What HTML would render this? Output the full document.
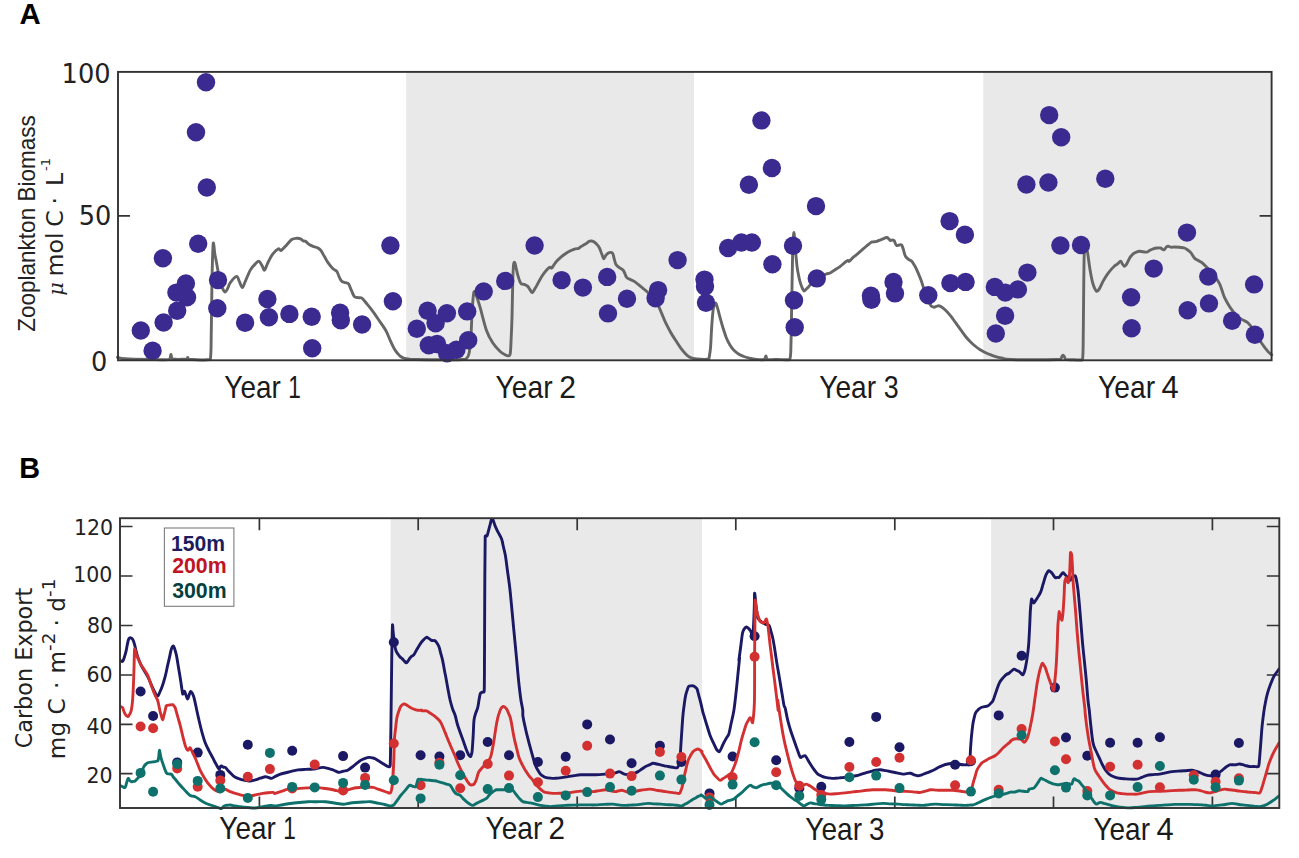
<!DOCTYPE html>
<html lang="en"><head><meta charset="utf-8"><title>Figure</title>
<style>html,body{margin:0;padding:0;background:#fff}body{width:1299px;height:858px;overflow:hidden}svg{display:block}</style>
</head><body>
<svg width="1299" height="858" viewBox="0 0 1299 858">
<rect width="1299" height="858" fill="#fff"/>
<rect x="406.2" y="71.9" width="287.8" height="288.4" fill="#e9e9e9"/>
<rect x="983.3" y="71.9" width="288.3" height="288.4" fill="#e9e9e9"/>
<path d="M117.5,357.3C118.8,357.6 119.6,358.4 125.1,358.8C130.6,359.2 142.6,359.4 150.1,359.5C157.6,359.6 165.7,360.1 169.2,359.3C170.9,358.4 170.3,354.6 170.9,354.5C171.5,354.4 170.9,358.0 172.7,358.8C175.3,359.6 183.8,359.2 186.4,359.0C187.7,358.8 187.2,357.4 187.7,357.5C188.2,357.6 187.7,359.0 189.2,359.3C193.0,359.6 206.5,360.1 210.3,359.5C211.3,354.6 211.0,343.7 211.3,330.2C211.6,316.7 211.7,294.9 212.0,280.1C212.3,265.3 212.8,247.5 213.3,243.0C213.8,242.4 214.3,250.5 214.8,253.8C215.3,257.1 215.7,258.1 216.5,262.6C217.3,267.1 218.7,275.6 219.8,280.1C220.9,284.6 221.9,286.9 222.8,288.9C223.7,290.9 224.5,292.2 225.3,292.1C226.2,292.0 227.0,289.7 227.8,288.1C228.7,286.5 228.8,284.6 230.3,282.6C231.8,280.6 235.1,276.6 236.6,276.4C238.1,276.2 238.3,279.5 239.3,281.4C240.3,283.3 241.3,287.6 242.3,287.6C243.3,287.6 243.9,284.4 245.3,281.4C246.7,278.4 248.6,273.1 250.3,270.1C252.0,267.1 253.9,265.3 255.4,263.8C256.9,262.3 257.9,260.9 259.1,261.3C260.3,261.7 261.5,264.8 262.4,266.3C263.3,267.8 263.7,270.7 264.6,270.1C265.5,269.5 266.5,265.4 267.9,262.6C269.3,259.8 271.1,256.1 272.9,253.8C274.7,251.5 277.0,249.4 278.4,248.8C279.8,248.2 279.7,250.9 280.9,250.5C282.1,250.1 283.6,248.2 285.4,246.3C287.2,244.4 289.8,240.9 291.7,239.5C293.6,238.1 295.2,238.4 296.7,238.3C298.2,238.2 299.3,238.3 300.5,238.8C301.7,239.3 302.6,240.6 303.5,241.0C304.4,241.4 304.5,240.7 305.5,241.3C306.5,241.9 307.9,243.7 309.2,244.5C310.5,245.3 311.7,245.8 313.0,246.3C314.3,246.8 315.5,246.9 316.8,247.5C318.1,248.1 319.2,248.5 320.5,250.0C321.8,251.5 323.0,254.2 324.3,256.3C325.6,258.4 326.5,260.5 328.0,262.6C329.5,264.7 331.5,267.3 333.0,268.8C334.5,270.3 335.7,269.9 336.8,271.3C337.9,272.7 338.4,275.4 339.3,277.1C340.2,278.8 340.7,280.5 341.8,281.4C342.9,282.3 344.4,282.2 345.6,282.6C346.8,283.0 347.6,282.6 348.6,283.9C349.6,285.2 350.3,288.0 351.3,290.1C352.3,292.2 353.1,295.1 354.3,296.4C355.5,297.7 356.8,297.4 358.1,297.7C359.4,298.0 360.4,297.1 361.9,298.2C363.4,299.3 365.2,301.9 366.9,303.9C368.6,305.9 370.0,307.6 371.9,310.2C373.8,312.8 375.8,315.6 378.1,319.0C380.4,322.4 383.6,326.6 385.7,330.2C387.8,333.8 388.7,337.1 390.2,340.3C391.7,343.5 393.1,346.8 394.4,349.0C395.7,351.2 396.6,352.2 397.7,353.5C398.8,354.8 399.5,355.7 400.7,356.5C401.9,357.3 403.2,357.9 404.5,358.3C405.8,358.7 406.4,358.8 408.2,359.0C410.0,359.2 410.0,359.4 415.0,359.5C420.0,359.6 429.5,359.8 437.6,359.8C445.7,359.8 457.7,359.7 462.6,359.5C466.4,359.3 465.3,359.4 466.4,358.5C467.5,357.6 468.2,357.1 468.9,354.0C469.6,350.9 470.1,347.7 470.7,340.3C471.3,332.9 471.7,317.9 472.2,310.2C472.7,302.5 473.0,298.4 473.4,295.2C473.8,292.0 473.9,291.3 474.4,291.4C474.9,291.5 475.4,292.9 476.4,295.7C477.4,298.5 478.5,301.8 480.2,307.7C481.9,313.6 484.3,324.2 486.4,330.2C488.5,336.2 490.4,339.2 492.7,342.8C495.0,346.4 498.1,349.5 500.2,351.5C502.3,353.5 503.8,354.1 505.2,354.8C506.6,355.5 507.3,356.1 508.2,355.8C509.1,355.5 509.8,356.4 510.3,353.3C510.8,349.8 511.0,341.3 511.3,335.2C511.6,329.1 511.7,327.1 512.0,317.7C512.3,308.3 512.5,289.0 512.8,280.1C513.1,271.2 513.2,268.1 513.5,265.1C513.8,262.1 514.3,262.0 514.8,262.6C515.3,263.2 515.8,266.7 516.3,268.8C516.8,270.9 517.2,273.0 517.8,275.1C518.4,277.2 519.2,279.9 519.8,281.4C520.4,282.9 520.6,283.4 521.5,283.9C522.4,284.4 523.7,284.2 524.8,284.6C525.9,285.0 526.9,285.5 527.8,286.4C528.7,287.3 529.5,289.0 530.3,290.1C531.1,291.2 531.4,292.9 532.3,292.6C533.1,292.3 533.9,290.4 535.3,288.1C536.7,285.8 538.8,281.4 540.3,278.9C541.8,276.3 542.8,274.8 544.1,273.1C545.4,271.4 546.8,269.8 547.8,268.8C548.8,267.8 549.2,267.2 549.8,267.1C550.4,267.0 550.9,268.5 551.6,268.1C552.3,267.7 553.2,265.8 554.1,264.6C555.0,263.4 555.5,262.5 556.6,261.3C557.7,260.1 558.9,258.9 560.4,257.6C561.9,256.3 563.7,255.0 565.4,253.8C567.1,252.6 568.7,251.7 570.4,250.8C572.1,250.0 574.0,249.2 575.4,248.8C576.8,248.4 577.5,248.8 578.4,248.5C579.2,248.2 579.6,247.5 580.4,247.0C581.2,246.5 582.0,246.0 582.9,245.5C583.8,245.0 584.8,244.5 585.9,243.8C587.0,243.1 588.2,241.8 589.2,241.3C590.2,240.8 590.9,240.9 591.7,241.0C592.6,241.1 593.4,241.4 594.2,242.0C595.1,242.6 595.9,243.4 596.7,244.3C597.6,245.2 598.4,245.9 599.2,247.5C600.1,249.1 600.9,251.9 601.7,253.8C602.5,255.7 603.0,258.6 603.7,258.8C604.4,259.0 605.1,256.2 606.0,255.1C606.9,254.0 608.1,252.9 609.2,252.6C610.3,252.3 611.6,252.0 612.5,253.1C613.4,254.2 613.6,256.8 614.2,258.8C614.8,260.8 615.1,263.1 616.0,264.6C616.9,266.1 618.1,266.7 619.3,267.6C620.5,268.5 622.0,269.0 623.0,270.1C624.0,271.2 624.4,272.6 625.0,273.9C625.6,275.2 625.9,276.6 626.8,277.6C627.7,278.6 629.2,279.0 630.5,279.6C631.8,280.2 632.6,280.2 634.3,281.4C636.0,282.6 638.3,284.5 640.6,286.4C642.9,288.3 646.0,290.6 648.1,292.6C650.2,294.6 651.4,296.1 653.1,298.2C654.8,300.3 656.6,302.5 658.1,305.2C659.6,307.9 660.6,310.9 661.9,313.9C663.2,316.9 664.1,319.6 665.6,322.7C667.1,325.8 668.9,329.2 670.6,332.2C672.3,335.2 673.9,337.6 675.6,340.3C677.3,343.0 678.9,345.5 680.6,347.8C682.3,350.1 684.2,352.4 685.7,354.0C687.2,355.6 688.1,356.2 689.4,357.0C690.7,357.8 691.3,358.1 693.2,358.5C695.1,358.9 698.1,359.2 700.7,359.3C703.3,359.4 707.2,359.5 708.7,359.0C709.3,358.5 709.0,358.4 709.3,356.5C709.6,354.6 710.1,352.3 710.5,347.8C710.9,343.3 711.1,336.6 711.5,330.2C711.9,323.8 712.6,314.5 713.1,310.2C713.6,305.9 714.1,305.9 714.6,304.7C715.1,303.5 715.3,302.6 715.8,303.2C716.3,303.8 716.9,305.7 717.6,308.2C718.3,310.7 719.2,314.3 720.1,317.7C721.0,321.1 722.0,324.8 723.1,328.2C724.2,331.6 725.1,334.8 726.3,337.7C727.5,340.6 728.8,343.2 730.1,345.3C731.4,347.4 732.4,348.8 733.9,350.3C735.4,351.8 737.2,353.2 738.9,354.3C740.6,355.4 742.0,355.8 743.9,356.5C745.8,357.2 748.2,357.8 750.1,358.3C752.0,358.8 752.9,359.1 755.2,359.3C757.5,359.5 762.1,360.1 763.9,359.5C765.7,358.9 765.3,356.0 765.9,356.0C766.5,356.0 765.9,358.7 767.7,359.3C769.7,359.9 774.0,359.5 777.7,359.5C781.4,359.5 787.4,360.1 789.7,359.5C791.0,356.7 790.7,352.0 791.0,342.8C791.3,333.6 791.4,319.3 791.7,305.2C792.0,291.1 792.2,271.2 792.5,260.1C792.8,249.0 792.9,244.7 793.2,240.0C793.5,235.3 793.7,232.5 794.0,232.5C794.3,232.5 794.4,236.6 794.7,240.0C795.0,243.4 795.3,247.9 795.7,252.6C796.1,257.3 796.7,263.6 797.2,267.6C797.7,271.6 798.3,273.8 798.8,276.4C799.3,278.9 799.7,280.6 800.3,282.6C800.9,284.6 801.7,286.7 802.3,288.1C802.9,289.5 803.4,290.6 804.0,290.9C804.6,291.2 805.2,290.2 805.8,289.6C806.4,289.0 807.0,288.5 807.8,287.6C808.6,286.8 809.4,285.7 810.3,284.6C811.1,283.5 811.5,282.4 812.8,281.4C814.1,280.4 816.1,279.9 817.8,278.9C819.5,277.9 821.3,276.5 822.8,275.6C824.3,274.8 825.4,274.3 826.6,273.9C827.8,273.5 828.7,273.5 829.8,273.1C830.9,272.7 831.6,272.0 832.8,271.3C834.0,270.6 835.3,269.7 836.6,268.8C837.9,267.9 839.0,267.3 840.3,266.3C841.6,265.3 842.9,264.1 844.1,263.1C845.3,262.1 846.5,260.9 847.4,260.6C848.2,260.3 848.2,261.8 849.1,261.3C850.0,260.8 851.6,258.7 852.9,257.6C854.2,256.5 855.3,255.7 856.6,254.6C857.9,253.5 858.9,252.6 860.4,251.3C861.9,250.0 863.9,248.3 865.4,247.0C866.9,245.7 868.1,244.7 869.2,243.8C870.3,243.0 870.9,242.3 871.7,242.0C872.6,241.7 873.4,241.9 874.2,241.8C875.1,241.7 875.4,241.7 876.7,241.3C878.0,240.9 880.0,239.9 881.7,239.3C883.4,238.7 885.5,237.6 886.7,237.5C887.9,237.4 888.1,238.3 888.7,238.8C889.3,239.3 889.9,240.3 890.5,240.5C891.1,240.7 891.9,239.9 892.5,240.0C893.1,240.1 893.7,240.2 894.2,240.8C894.7,241.4 895.1,243.0 895.5,243.8C895.9,244.6 896.1,245.3 896.7,245.5C897.3,245.7 898.4,245.1 899.2,245.0C900.1,244.9 901.0,244.4 901.7,245.0C902.4,245.8 902.9,248.1 903.5,250.0C904.1,251.9 904.6,254.7 905.5,256.3C906.4,257.9 907.4,258.4 908.5,259.3C909.6,260.2 910.7,260.1 911.8,261.3C912.9,262.5 913.9,264.4 915.0,266.3C916.1,268.2 917.0,270.3 918.0,272.6C919.0,274.9 919.9,277.1 921.0,280.1C922.1,283.1 923.2,287.0 924.3,290.1C925.4,293.2 926.4,295.6 927.5,298.2C928.6,300.8 929.7,303.8 930.6,305.2C931.5,306.6 932.0,306.4 932.6,306.7C933.2,307.0 933.6,307.3 934.3,307.2C935.0,307.1 935.9,306.4 936.8,306.2C937.6,306.0 938.3,305.6 939.3,305.9C940.3,306.2 941.5,307.0 942.6,307.7C943.7,308.4 944.2,308.8 945.6,310.2C947.0,311.6 948.9,313.8 950.6,315.9C952.3,318.0 953.9,320.4 955.6,322.7C957.3,325.0 958.9,327.4 960.6,329.7C962.3,332.0 963.9,334.4 965.6,336.5C967.3,338.6 968.9,340.3 970.6,342.0C972.3,343.7 974.0,345.1 975.7,346.5C977.4,347.9 979.0,348.9 980.7,350.0C982.4,351.1 983.8,351.9 985.7,352.8C987.6,353.7 989.8,354.5 991.9,355.3C994.0,356.1 996.3,356.8 998.2,357.3C1000.1,357.8 1001.8,358.0 1003.2,358.3C1004.6,358.6 1003.2,359.0 1006.6,359.3C1011.0,359.6 1020.0,359.8 1029.1,359.8C1038.2,359.8 1054.9,359.8 1060.4,359.3C1061.7,358.8 1061.3,357.5 1061.7,356.8C1062.1,356.1 1062.5,355.3 1063.0,355.3C1063.5,355.3 1064.0,356.1 1064.5,356.8C1065.0,357.5 1064.5,358.8 1065.7,359.3C1067.3,359.8 1071.3,359.7 1074.2,359.8C1077.1,359.9 1081.0,360.4 1082.5,359.8C1083.3,354.8 1083.1,343.7 1083.3,330.2C1083.5,316.7 1083.6,293.3 1083.8,280.1C1084.0,266.9 1084.0,257.6 1084.3,252.6C1084.6,249.9 1085.3,250.7 1085.8,250.5C1086.3,250.3 1086.8,249.9 1087.3,251.3C1087.8,253.1 1088.3,257.7 1088.8,261.3C1089.3,264.9 1089.9,269.2 1090.5,272.6C1091.1,276.0 1091.7,278.8 1092.3,281.4C1092.9,283.9 1093.5,285.9 1094.3,287.6C1095.1,289.3 1096.0,291.2 1096.8,291.4C1097.6,291.6 1098.2,290.6 1099.3,288.9C1100.4,287.2 1101.7,283.7 1103.0,281.4C1104.3,279.1 1105.5,277.0 1106.8,275.1C1108.1,273.2 1109.3,271.6 1110.6,270.1C1111.9,268.6 1113.1,267.4 1114.3,266.3C1115.5,265.2 1116.5,264.7 1117.6,263.8C1118.7,262.9 1119.8,261.3 1120.6,261.3C1121.4,261.3 1121.7,262.9 1122.3,263.8C1122.9,264.7 1123.7,266.1 1124.3,266.3C1124.9,266.5 1125.4,265.7 1125.9,265.1C1126.4,264.5 1126.7,263.9 1127.4,262.6C1128.1,261.3 1128.9,259.1 1129.9,257.6C1130.9,256.1 1132.0,254.7 1133.1,253.8C1134.2,252.9 1135.3,252.5 1136.4,252.1C1137.5,251.7 1138.3,251.4 1139.4,251.3C1140.5,251.2 1141.8,251.7 1143.1,251.8C1144.4,251.9 1145.7,252.4 1146.9,252.1C1148.1,251.8 1148.8,250.9 1149.9,250.3C1151.0,249.7 1152.0,249.2 1153.2,248.8C1154.4,248.4 1155.6,248.1 1156.9,248.0C1158.2,247.9 1159.7,247.7 1160.7,248.0C1161.7,248.3 1162.1,249.2 1162.7,249.5C1163.3,249.8 1163.8,249.9 1164.4,249.5C1165.0,249.1 1165.8,247.5 1166.4,247.0C1167.0,246.5 1167.3,246.2 1168.2,246.3C1169.1,246.4 1170.4,247.2 1171.5,247.3C1172.6,247.4 1173.1,247.0 1174.5,247.0C1175.9,247.0 1177.8,247.1 1179.5,247.3C1181.2,247.5 1183.1,247.5 1184.5,248.0C1185.9,248.5 1186.6,249.2 1187.7,250.0C1188.8,250.8 1189.9,251.6 1190.8,252.6C1191.7,253.6 1192.2,254.7 1192.8,255.6C1193.4,256.5 1193.6,257.2 1194.5,258.1C1195.4,259.0 1197.0,259.8 1198.3,260.6C1199.6,261.4 1200.5,261.4 1202.0,262.6C1203.5,263.8 1205.3,265.9 1207.0,267.6C1208.7,269.3 1210.5,270.9 1212.0,272.6C1213.5,274.3 1214.5,275.7 1215.8,277.6C1217.1,279.5 1218.5,281.7 1219.6,283.9C1220.7,286.1 1221.2,288.3 1222.1,290.6C1222.9,292.9 1223.5,295.4 1224.6,297.7C1225.7,300.0 1227.0,302.3 1228.3,304.4C1229.6,306.5 1230.8,308.4 1232.1,310.2C1233.4,312.0 1234.6,313.3 1235.9,314.7C1237.2,316.1 1238.3,317.3 1239.6,318.2C1240.9,319.1 1242.1,319.5 1243.4,320.2C1244.7,320.9 1245.9,321.3 1247.1,322.2C1248.3,323.1 1249.3,324.3 1250.4,325.7C1251.5,327.1 1252.2,328.2 1253.4,330.2C1254.6,332.2 1256.2,334.9 1257.7,337.2C1259.2,339.5 1260.9,342.1 1262.2,344.0C1263.5,345.9 1264.3,346.9 1265.4,348.3C1266.5,349.7 1267.3,350.9 1268.4,352.0C1269.5,353.1 1271.1,354.3 1271.7,354.8" fill="none" stroke="#666666" stroke-width="2.9" stroke-linejoin="round" stroke-linecap="round"/>
<g fill="#3b2a8f">
<circle cx="198.2" cy="243.8" r="9.2"/>
<circle cx="162.9" cy="258.3" r="9.2"/>
<circle cx="185.9" cy="283.4" r="9.2"/>
<circle cx="176.4" cy="292.6" r="9.2"/>
<circle cx="187.0" cy="297.2" r="9.2"/>
<circle cx="177.2" cy="310.7" r="9.2"/>
<circle cx="163.6" cy="322.5" r="9.2"/>
<circle cx="140.8" cy="330.5" r="9.2"/>
<circle cx="152.6" cy="350.8" r="9.2"/>
<circle cx="218.0" cy="280.1" r="9.2"/>
<circle cx="217.3" cy="308.2" r="9.2"/>
<circle cx="245.1" cy="322.7" r="9.2"/>
<circle cx="267.4" cy="298.9" r="9.2"/>
<circle cx="268.9" cy="317.2" r="9.2"/>
<circle cx="289.4" cy="313.9" r="9.2"/>
<circle cx="311.7" cy="316.7" r="9.2"/>
<circle cx="312.2" cy="348.3" r="9.2"/>
<circle cx="340.1" cy="312.7" r="9.2"/>
<circle cx="340.8" cy="320.2" r="9.2"/>
<circle cx="362.1" cy="324.5" r="9.2"/>
<circle cx="390.4" cy="245.5" r="9.2"/>
<circle cx="392.9" cy="301.2" r="9.2"/>
<circle cx="206.0" cy="82.2" r="9.2"/>
<circle cx="196.0" cy="132.2" r="9.2"/>
<circle cx="206.8" cy="187.5" r="9.2"/>
<circle cx="416.8" cy="328.7" r="9.2"/>
<circle cx="427.6" cy="310.7" r="9.2"/>
<circle cx="435.6" cy="323.2" r="9.2"/>
<circle cx="446.9" cy="313.2" r="9.2"/>
<circle cx="467.2" cy="311.4" r="9.2"/>
<circle cx="428.8" cy="345.3" r="9.2"/>
<circle cx="437.1" cy="344.0" r="9.2"/>
<circle cx="447.1" cy="353.3" r="9.2"/>
<circle cx="456.4" cy="349.8" r="9.2"/>
<circle cx="468.2" cy="340.3" r="9.2"/>
<circle cx="483.7" cy="291.4" r="9.2"/>
<circle cx="505.2" cy="280.9" r="9.2"/>
<circle cx="534.6" cy="245.5" r="9.2"/>
<circle cx="561.6" cy="280.1" r="9.2"/>
<circle cx="582.9" cy="287.6" r="9.2"/>
<circle cx="607.2" cy="276.9" r="9.2"/>
<circle cx="608.0" cy="313.4" r="9.2"/>
<circle cx="627.0" cy="298.7" r="9.2"/>
<circle cx="658.1" cy="290.1" r="9.2"/>
<circle cx="655.6" cy="298.2" r="9.2"/>
<circle cx="677.6" cy="260.1" r="9.2"/>
<circle cx="704.5" cy="279.6" r="9.2"/>
<circle cx="705.0" cy="286.4" r="9.2"/>
<circle cx="706.0" cy="302.7" r="9.2"/>
<circle cx="728.1" cy="248.0" r="9.2"/>
<circle cx="741.4" cy="242.5" r="9.2"/>
<circle cx="751.9" cy="242.5" r="9.2"/>
<circle cx="772.4" cy="264.3" r="9.2"/>
<circle cx="793.0" cy="245.8" r="9.2"/>
<circle cx="794.0" cy="300.2" r="9.2"/>
<circle cx="794.7" cy="327.2" r="9.2"/>
<circle cx="816.8" cy="278.4" r="9.2"/>
<circle cx="870.9" cy="295.7" r="9.2"/>
<circle cx="871.4" cy="299.7" r="9.2"/>
<circle cx="893.5" cy="281.9" r="9.2"/>
<circle cx="895.0" cy="293.4" r="9.2"/>
<circle cx="928.3" cy="295.2" r="9.2"/>
<circle cx="950.4" cy="283.1" r="9.2"/>
<circle cx="965.6" cy="281.9" r="9.2"/>
<circle cx="761.4" cy="120.4" r="9.2"/>
<circle cx="771.9" cy="168.0" r="9.2"/>
<circle cx="748.9" cy="184.8" r="9.2"/>
<circle cx="816.0" cy="206.1" r="9.2"/>
<circle cx="949.6" cy="221.1" r="9.2"/>
<circle cx="964.9" cy="234.7" r="9.2"/>
<circle cx="994.8" cy="286.9" r="9.2"/>
<circle cx="1005.3" cy="292.6" r="9.2"/>
<circle cx="1017.9" cy="289.4" r="9.2"/>
<circle cx="1027.4" cy="272.6" r="9.2"/>
<circle cx="1005.1" cy="315.7" r="9.2"/>
<circle cx="995.8" cy="333.5" r="9.2"/>
<circle cx="1060.4" cy="245.5" r="9.2"/>
<circle cx="1081.0" cy="245.0" r="9.2"/>
<circle cx="1131.1" cy="297.2" r="9.2"/>
<circle cx="1131.6" cy="328.2" r="9.2"/>
<circle cx="1153.7" cy="268.6" r="9.2"/>
<circle cx="1187.7" cy="310.2" r="9.2"/>
<circle cx="1208.3" cy="276.6" r="9.2"/>
<circle cx="1209.0" cy="303.4" r="9.2"/>
<circle cx="1232.1" cy="320.7" r="9.2"/>
<circle cx="1254.1" cy="284.4" r="9.2"/>
<circle cx="1254.9" cy="334.7" r="9.2"/>
<circle cx="1049.2" cy="115.1" r="9.2"/>
<circle cx="1061.2" cy="137.2" r="9.2"/>
<circle cx="1026.4" cy="184.5" r="9.2"/>
<circle cx="1048.4" cy="182.5" r="9.2"/>
<circle cx="1105.3" cy="178.8" r="9.2"/>
<circle cx="1187.0" cy="232.6" r="9.2"/>
</g>
<rect x="118.0" y="71.9" width="1153.6" height="288.4" fill="none" stroke="#333333" stroke-width="1.9"/>
<path d="M118.0,215.8 h12 M1271.6,215.8 h-12" stroke="#333333" stroke-width="1.7" fill="none"/>
<rect x="390.6" y="518.2" width="311.4" height="289.8" fill="#e9e9e9"/>
<rect x="991.1" y="518.2" width="288.2" height="289.8" fill="#e9e9e9"/>
<clipPath id="cb"><rect x="120.0" y="518.2" width="1159.3" height="292.8"/></clipPath>
<path d="M120.0,526.5 h12.5 M1279.3,526.5 h-12.5 M120.0,576.0 h12.5 M1279.3,576.0 h-12.5 M120.0,625.5 h12.5 M1279.3,625.5 h-12.5 M120.0,675.0 h12.5 M1279.3,675.0 h-12.5 M120.0,724.3 h12.5 M1279.3,724.3 h-12.5 M120.0,773.7 h12.5 M1279.3,773.7 h-12.5 M259.4,518.2 v12 M259.4,808.0 v-11.5 M418.2,518.2 v12 M418.2,808.0 v-11.5 M577.2,518.2 v12 M577.2,808.0 v-11.5 M735.8,518.2 v12 M735.8,808.0 v-11.5 M894.8,518.2 v12 M894.8,808.0 v-11.5 M1053.5,518.2 v12 M1053.5,808.0 v-11.5 M1212.4,518.2 v12 M1212.4,808.0 v-11.5" stroke="#333333" stroke-width="1.7" fill="none"/>
<path clip-path="url(#cb)" d="M120.0,660.1C120.4,660.3 121.8,662.0 122.6,661.4C123.4,660.8 124.0,658.3 124.6,656.4C125.2,654.5 125.8,652.4 126.3,650.1C126.8,647.8 127.2,645.0 127.6,643.1C128.0,641.2 128.4,639.7 128.8,638.8C129.2,637.9 129.7,637.9 130.1,637.8C130.5,637.7 130.8,637.7 131.3,638.1C131.8,638.5 132.5,639.0 133.1,640.1C133.7,641.2 134.2,643.1 134.6,644.6C135.0,646.1 135.1,646.9 135.6,648.9C136.1,650.9 136.6,653.5 137.6,656.4C138.6,659.3 139.6,662.3 141.3,665.7C143.0,669.1 145.7,672.7 147.6,676.4C149.5,680.1 151.1,684.5 152.6,687.7C154.1,690.9 155.5,693.8 156.4,695.2C157.3,696.3 157.5,696.3 158.1,695.7C158.7,695.1 159.3,693.3 160.1,691.5C160.9,689.7 161.7,687.8 162.6,685.2C163.5,682.6 164.3,679.8 165.2,676.4C166.1,673.0 166.9,668.6 167.7,665.2C168.5,661.8 169.1,659.2 169.7,656.4C170.3,653.6 170.8,650.7 171.4,648.9C172.0,647.1 172.8,645.8 173.4,645.9C174.0,646.0 174.4,648.0 174.9,649.6C175.4,651.2 175.8,652.4 176.4,655.1C177.0,657.8 177.6,661.9 178.2,665.7C178.8,669.5 179.6,674.0 180.2,677.7C180.8,681.4 181.3,684.9 181.7,687.7C182.1,690.5 182.4,693.3 182.7,694.0C183.0,694.6 183.4,692.1 183.7,691.7C184.0,691.3 184.3,690.9 184.7,691.5C185.1,692.2 185.7,694.4 186.2,695.7C186.7,697.0 187.2,699.2 187.7,699.0C188.2,698.8 188.7,696.0 189.2,694.7C189.7,693.4 190.1,691.7 190.7,691.5C191.3,691.3 191.9,692.6 192.5,693.7C193.1,694.8 193.3,695.1 194.0,697.7C194.7,700.3 195.7,705.2 196.5,709.0C197.3,712.8 198.1,716.3 199.0,720.3C199.9,724.3 200.9,728.5 202.0,732.3C203.1,736.1 204.0,739.7 205.2,742.8C206.4,745.9 207.7,748.2 209.0,750.8C210.3,753.4 211.6,755.6 212.8,757.9C214.0,760.2 214.9,762.2 216.0,764.1C217.1,766.0 218.3,768.7 219.0,769.1C219.7,769.5 219.9,767.1 220.3,766.6C220.7,766.1 221.0,765.8 221.5,765.9C222.0,766.0 222.7,766.8 223.3,767.1C223.9,767.4 224.5,766.8 225.3,767.4C226.1,768.0 227.0,769.5 227.8,770.4C228.7,771.3 229.4,772.0 230.3,772.9C231.2,773.8 232.2,775.0 233.3,775.9C234.4,776.8 235.2,777.3 236.6,777.9C238.0,778.5 239.7,779.2 241.6,779.7C243.5,780.2 246.1,780.7 247.8,780.9C249.5,781.1 250.3,780.9 251.6,780.7C252.9,780.5 253.9,780.3 255.4,779.9C256.9,779.5 258.7,778.7 260.4,778.2C262.1,777.7 264.0,776.8 265.4,776.7C266.8,776.6 267.3,777.1 268.4,777.4C269.5,777.7 270.4,778.6 271.6,778.4C272.8,778.2 273.9,777.1 275.4,776.4C276.9,775.7 278.1,775.0 280.4,774.2C282.7,773.4 286.2,772.6 289.2,771.9C292.2,771.2 295.2,770.3 298.0,769.9C300.8,769.5 302.9,769.5 305.5,769.4C308.1,769.3 310.9,769.3 313.0,769.1C315.1,768.9 316.3,768.4 318.0,768.1C319.7,767.8 321.3,767.3 323.0,767.4C324.7,767.5 326.3,768.0 328.0,768.4C329.7,768.8 331.6,769.4 333.0,769.9C334.4,770.4 335.2,771.0 336.3,771.4C337.4,771.8 338.1,772.5 339.3,772.4C340.5,772.3 342.1,771.5 343.6,771.1C345.1,770.7 346.3,770.9 348.1,769.9C349.9,768.9 352.2,767.0 354.3,765.4C356.4,763.8 358.8,761.6 360.6,760.4C362.4,759.2 363.6,758.9 365.1,758.4C366.6,757.9 368.1,757.5 369.4,757.4C370.7,757.3 371.5,757.6 372.6,757.9C373.7,758.2 374.0,758.2 375.6,759.1C377.2,760.0 379.8,761.6 381.9,762.9C384.0,764.2 386.8,766.2 388.2,766.6C389.6,767.0 389.7,767.2 390.2,765.4C390.7,753.3 391.0,714.1 391.3,695.4C391.6,676.7 391.6,667.3 391.8,655.3C392.0,643.3 392.3,629.0 392.5,624.8C392.7,624.2 392.8,628.1 393.0,630.3C393.2,632.5 393.5,635.5 393.8,637.8C394.1,640.1 394.2,642.2 394.5,644.1C394.8,646.0 395.1,647.6 395.5,649.1C395.9,650.6 396.4,651.7 397.0,652.8C397.6,653.9 398.2,654.5 398.8,655.3C399.4,656.1 399.9,656.8 400.5,657.4C401.1,658.0 401.9,658.4 402.6,659.1C403.3,659.8 404.0,660.8 404.6,661.4C405.2,662.0 405.7,663.0 406.3,662.9C406.9,662.8 407.5,661.8 408.1,660.9C408.7,660.0 409.5,658.7 410.1,657.9C410.7,657.1 411.2,656.6 411.8,656.1C412.4,655.6 412.9,655.9 413.8,654.8C414.7,653.7 415.7,651.4 416.8,649.6C417.9,647.8 419.0,645.7 420.1,644.1C421.2,642.5 422.0,641.5 423.1,640.3C424.2,639.1 425.4,637.6 426.4,637.3C427.4,637.0 428.0,638.1 428.9,638.6C429.8,639.1 430.7,640.0 431.4,640.3C432.1,640.6 432.5,640.5 433.1,640.6C433.7,640.7 434.4,640.3 435.1,640.8C435.8,641.3 436.5,642.3 437.1,643.3C437.7,644.3 438.3,645.0 438.9,646.6C439.5,648.2 440.0,650.5 440.6,652.8C441.2,655.1 442.0,657.5 442.6,660.4C443.2,663.3 443.8,666.5 444.4,669.9C445.0,673.3 445.8,676.9 446.4,680.4C447.0,683.9 447.6,687.0 448.2,690.4C448.8,693.8 449.4,697.3 450.2,700.5C451.0,703.7 451.8,706.7 452.7,709.2C453.6,711.8 454.3,712.8 455.2,715.5C456.1,718.2 456.2,720.6 457.7,725.2C459.2,729.8 462.4,738.5 463.9,742.7C465.4,746.9 465.7,747.9 466.4,749.8C467.1,751.7 467.7,753.0 468.2,754.0C468.7,755.0 469.1,755.4 469.5,755.8C469.9,756.2 470.4,756.8 470.7,756.5C471.0,756.2 471.2,755.1 471.5,754.0C471.8,752.9 471.9,753.5 472.2,750.3C472.5,747.1 472.9,740.3 473.2,735.2C473.5,730.1 473.6,723.9 474.0,720.2C474.4,716.5 475.1,715.3 475.7,713.2C476.3,711.1 477.1,709.9 477.7,707.7C478.3,705.5 478.6,702.4 479.0,700.1C479.4,697.8 479.8,695.2 480.2,693.9C480.6,692.6 481.1,692.9 481.5,692.6C481.9,692.3 482.2,692.3 482.7,692.1C483.2,691.9 483.9,692.7 484.2,691.4C484.5,685.1 484.4,670.0 484.5,655.3C484.6,640.6 484.6,625.4 484.7,605.2C484.8,585.0 484.9,548.1 485.2,536.3C485.5,535.2 485.9,535.9 486.2,535.8C486.5,535.7 486.8,536.4 487.2,535.6C487.6,534.5 488.3,531.6 488.8,529.6C489.3,527.6 489.9,525.4 490.3,523.8C490.7,522.2 491.0,521.0 491.3,520.0C491.6,519.0 491.9,517.7 492.3,518.0C492.7,518.3 493.3,520.6 493.8,522.0C494.3,523.4 494.5,524.5 495.3,526.3C496.1,528.1 497.2,530.5 498.3,532.6C499.4,534.7 500.6,536.5 501.5,538.8C502.4,541.1 502.7,543.5 503.3,546.3C503.9,549.1 504.5,550.5 505.3,555.1C506.1,559.7 506.9,566.8 507.8,573.2C508.7,579.6 509.5,584.9 510.3,592.7C511.1,600.5 511.9,610.1 512.8,619.0C513.6,627.9 514.5,637.2 515.3,645.3C516.1,653.4 516.7,659.8 517.3,666.6C517.9,673.4 518.5,679.9 519.1,685.4C519.7,690.9 520.2,694.9 520.8,699.2C521.4,703.5 522.5,707.8 522.8,710.5C522.8,713.2 522.8,712.3 522.8,715.2C523.2,718.1 524.4,723.8 525.3,727.7C526.1,731.6 526.9,734.8 527.8,738.2C528.6,741.6 529.4,744.5 530.3,747.7C531.2,750.9 532.0,754.0 532.9,757.0C533.8,760.0 534.5,763.0 535.4,765.3C536.2,767.6 537.0,768.8 537.9,770.3C538.8,771.8 539.5,773.1 540.4,774.1C541.2,775.1 542.0,775.6 542.9,776.1C543.8,776.6 544.1,777.0 545.4,777.3C546.7,777.6 548.7,777.9 550.4,778.1C552.1,778.3 553.5,778.4 555.4,778.3C557.3,778.2 559.6,777.9 561.7,777.6C563.8,777.3 565.8,776.9 567.9,776.6C570.0,776.3 572.1,775.9 574.2,775.6C576.3,775.3 578.4,774.9 580.5,774.8C582.6,774.7 584.6,774.8 586.7,774.8C588.8,774.8 590.9,774.8 593.0,774.8C595.1,774.8 597.2,774.7 599.3,774.6C601.4,774.5 603.6,774.3 605.5,774.1C607.4,773.9 608.8,773.8 610.5,773.6C612.2,773.4 614.3,773.1 615.5,772.8C616.7,772.5 616.9,772.3 617.5,772.1C618.1,771.9 618.6,771.5 619.3,771.6C620.0,771.7 620.9,772.4 621.8,772.8C622.6,773.2 623.3,773.8 624.3,774.1C625.3,774.4 626.5,774.5 627.6,774.6C628.7,774.7 629.5,775.0 630.6,774.8C631.7,774.6 633.0,773.8 634.3,773.3C635.6,772.8 636.8,772.3 638.1,771.6C639.4,770.9 640.6,769.9 641.9,769.0C643.2,768.1 644.3,767.2 645.6,766.5C646.9,765.8 648.1,765.3 649.4,764.8C650.7,764.3 651.8,763.4 653.1,763.3C654.4,763.2 655.6,763.7 656.9,764.0C658.2,764.3 659.3,764.5 660.6,764.8C661.9,765.1 663.1,765.5 664.4,765.8C665.7,766.1 666.8,766.2 668.2,766.5C669.6,766.8 671.2,767.1 672.7,767.3C674.2,767.5 675.9,768.1 676.9,767.8C677.9,767.5 678.0,766.6 678.4,765.8C678.8,764.9 679.1,765.0 679.4,762.8C679.7,760.6 680.1,756.6 680.4,752.8C680.7,749.0 680.9,744.9 681.2,740.2C681.5,735.5 681.9,729.9 682.2,725.2C682.5,720.5 682.8,716.5 683.2,712.7C683.6,708.9 684.1,705.6 684.5,702.6C684.9,699.6 685.2,697.2 685.7,695.1C686.2,693.0 686.7,691.6 687.2,690.1C687.7,688.6 688.1,687.1 688.7,686.4C689.3,685.7 690.2,686.0 691.0,685.9C691.8,685.8 692.5,685.7 693.2,685.9C693.9,686.1 694.6,686.6 695.2,687.1C695.8,687.6 696.4,687.5 697.0,688.9C697.6,690.3 698.1,692.8 698.7,695.1C699.3,697.4 700.0,699.8 700.7,702.6C701.4,705.4 702.2,709.3 702.7,711.4C703.2,713.5 703.1,712.8 703.8,715.2C704.5,717.6 705.9,722.3 707.0,725.7C708.1,729.1 708.9,732.3 710.0,735.2C711.1,738.1 712.2,740.4 713.3,742.7C714.4,745.0 715.5,747.6 716.3,749.0C717.1,750.4 717.5,750.6 718.1,751.0C718.7,751.4 719.0,752.1 719.6,751.5C720.2,750.9 721.1,748.7 721.8,747.2C722.5,745.7 723.0,744.2 723.8,742.7C724.6,741.2 725.4,739.7 726.3,738.2C727.1,736.7 727.9,736.6 728.8,734.0C729.6,731.4 730.4,726.7 731.3,722.7C732.2,718.7 733.1,715.1 733.9,710.2C734.7,705.3 735.3,699.4 735.9,693.9C736.5,688.4 737.0,683.8 737.6,677.6C738.2,671.4 739.4,660.4 739.6,657.5C739.6,656.9 738.9,661.0 738.9,660.4C739.1,658.3 740.3,650.0 740.9,645.3C741.5,640.6 742.0,635.6 742.6,632.8C743.2,630.0 743.8,629.8 744.4,628.8C745.0,627.8 745.7,627.1 746.4,627.0C747.1,626.9 747.8,627.7 748.4,628.3C749.0,628.9 749.6,629.4 750.1,630.3C750.6,631.1 751.2,632.4 751.6,633.3C752.0,634.1 752.3,635.9 752.6,635.3C752.9,634.4 753.2,630.8 753.4,627.8C753.6,624.8 753.7,622.1 753.9,617.8C754.1,613.5 754.3,606.9 754.4,602.7C754.5,598.5 754.4,593.8 754.6,593.2C754.8,592.6 755.2,597.0 755.4,599.0C755.6,601.0 755.6,603.0 755.9,605.2C756.2,607.4 756.6,610.1 756.9,612.2C757.2,614.3 757.1,616.3 757.7,617.8C758.3,619.3 759.4,619.9 760.2,620.8C761.1,621.6 761.8,622.2 762.7,622.8C763.6,623.4 764.6,623.9 765.7,624.3C766.8,624.7 768.0,624.3 768.9,625.3C769.8,626.3 770.1,628.2 770.7,630.3C771.3,632.4 772.0,634.6 772.7,637.8C773.4,641.0 774.1,645.3 774.7,649.1C775.3,652.9 775.7,655.9 776.4,660.4C777.1,664.9 778.1,670.3 779.0,675.4C779.9,680.5 780.6,685.3 781.5,690.4C782.4,695.5 783.4,702.5 784.0,705.5C784.6,708.5 784.6,705.7 785.2,708.2C785.8,710.7 786.8,716.4 787.7,720.2C788.6,724.0 789.6,727.3 790.7,730.7C791.8,734.1 792.9,737.0 794.0,740.2C795.1,743.4 796.1,746.4 797.2,749.3C798.3,752.2 799.3,756.1 800.3,757.3C801.3,757.9 801.9,756.6 802.8,756.3C803.6,756.0 804.4,755.2 805.3,755.8C806.1,756.4 806.9,758.4 807.8,759.8C808.6,761.2 809.2,762.4 810.3,764.0C811.4,765.6 812.7,767.8 814.0,769.5C815.3,771.2 816.5,773.0 817.8,774.1C819.1,775.2 820.3,775.6 821.6,776.1C822.9,776.6 823.8,777.0 825.3,777.3C826.8,777.6 828.6,777.9 830.3,778.1C832.0,778.3 833.6,778.4 835.3,778.3C837.0,778.2 838.6,778.0 840.3,777.8C842.0,777.6 843.5,777.6 845.4,777.3C847.3,777.0 849.5,776.6 851.6,776.3C853.7,776.0 855.8,775.8 857.9,775.3C860.0,774.8 862.1,773.9 864.2,773.3C866.3,772.7 868.5,772.1 870.4,771.6C872.3,771.1 873.7,770.6 875.4,770.3C877.1,770.0 878.7,769.7 880.4,769.8C882.1,769.9 883.8,770.3 885.5,770.6C887.2,770.9 888.6,771.2 890.5,771.6C892.4,772.0 894.6,772.4 896.7,772.8C898.8,773.2 901.3,774.0 903.0,774.1C904.7,774.2 905.5,773.7 906.8,773.6C908.1,773.5 909.2,773.1 910.5,773.3C911.8,773.5 913.0,774.4 914.3,774.8C915.6,775.2 916.7,775.8 918.0,775.8C919.3,775.8 920.5,775.2 921.8,774.8C923.1,774.4 924.1,773.8 925.5,773.3C926.9,772.8 928.6,772.2 930.1,771.6C931.6,771.0 932.9,770.5 934.3,769.8C935.7,769.1 937.1,768.1 938.6,767.3C940.1,766.5 941.5,765.9 943.1,765.3C944.7,764.7 946.4,764.3 948.1,764.0C949.8,763.7 951.4,763.3 953.1,763.3C954.8,763.3 956.4,763.7 958.1,764.0C959.8,764.3 961.6,764.7 963.1,764.8C964.6,764.9 965.8,764.8 966.9,764.8C968.0,764.8 968.9,765.4 969.4,764.8C969.9,763.6 969.9,760.7 970.1,757.8C970.3,754.9 970.3,751.5 970.6,747.7C970.9,743.9 971.2,739.0 971.6,735.2C972.0,731.4 972.3,728.2 972.7,725.2C973.1,722.2 973.7,719.8 974.2,717.7C974.7,715.6 975.0,714.1 975.7,712.7C976.4,711.3 977.4,710.6 978.2,709.7C979.1,708.9 979.6,708.2 980.7,707.7C981.8,707.2 983.1,707.0 984.4,706.7C985.7,706.4 987.1,706.3 988.2,705.7C989.3,705.1 989.9,704.4 990.7,703.4C991.6,702.4 992.3,702.1 993.2,700.1C994.1,698.1 995.1,694.4 996.2,691.4C997.3,688.4 998.3,684.9 999.5,682.6C1000.7,680.3 1001.9,679.1 1003.2,677.6C1004.5,676.1 1006.2,674.4 1007.0,673.8C1007.8,673.2 1007.1,674.5 1007.8,674.1C1008.5,673.7 1010.0,672.2 1011.1,671.4C1012.2,670.5 1013.2,669.3 1014.1,669.1C1015.0,668.9 1015.8,670.0 1016.6,670.4C1017.5,670.8 1018.3,671.1 1019.1,671.6C1019.9,672.1 1020.5,672.8 1021.1,673.4C1021.7,674.0 1022.4,675.1 1022.9,674.9C1023.4,674.7 1023.7,673.6 1024.1,672.4C1024.5,671.2 1024.9,670.4 1025.4,667.9C1025.9,665.4 1026.6,661.7 1027.1,657.9C1027.6,654.1 1028.2,650.4 1028.6,645.3C1029.0,640.2 1029.3,633.8 1029.6,627.8C1029.9,621.8 1030.1,614.5 1030.4,610.2C1030.7,605.9 1030.9,604.6 1031.1,602.7C1031.3,600.8 1031.3,599.2 1031.6,599.0C1031.9,598.8 1032.5,600.9 1032.9,601.5C1033.3,602.1 1033.4,603.3 1034.1,602.7C1034.8,602.1 1036.0,599.9 1037.1,598.2C1038.2,596.5 1039.4,595.0 1040.4,592.7C1041.4,590.4 1042.1,587.5 1042.9,584.7C1043.8,581.9 1044.7,578.4 1045.4,576.4C1046.1,574.4 1046.6,573.7 1047.2,572.7C1047.8,571.7 1048.2,570.9 1048.7,570.7C1049.2,570.5 1049.7,571.1 1050.2,571.4C1050.7,571.7 1051.1,572.0 1051.7,572.7C1052.3,573.4 1053.1,574.9 1053.7,575.7C1054.3,576.6 1054.8,577.4 1055.4,577.7C1056.0,578.0 1056.6,577.5 1057.2,577.4C1057.8,577.3 1058.5,577.7 1059.2,577.2C1059.9,576.7 1060.6,575.5 1061.2,574.7C1061.8,573.9 1062.4,572.8 1063.0,572.7C1063.6,572.6 1064.1,573.6 1064.7,574.2C1065.3,574.8 1066.0,575.6 1066.7,576.4C1067.4,577.2 1068.1,578.1 1068.7,578.7C1069.3,579.3 1070.0,580.4 1070.5,580.2C1071.0,580.0 1071.3,578.3 1071.7,577.7C1072.1,577.1 1072.6,576.7 1073.0,576.4C1073.4,576.1 1073.8,575.9 1074.2,575.9C1074.6,575.9 1075.1,575.5 1075.5,576.4C1075.9,577.3 1076.3,579.1 1076.7,581.4C1077.1,583.7 1077.6,586.6 1078.0,590.2C1078.4,593.8 1078.8,598.0 1079.2,602.7C1079.6,607.4 1080.0,611.6 1080.5,617.8C1081.0,624.0 1081.6,631.9 1082.2,639.1C1082.8,646.3 1083.6,653.4 1084.3,660.4C1085.0,667.4 1085.7,673.6 1086.3,680.4C1086.9,687.2 1087.5,695.4 1088.0,700.5C1088.5,705.6 1088.9,706.7 1089.3,710.5C1089.7,714.3 1089.9,717.2 1090.5,722.7C1091.1,728.2 1092.0,737.8 1093.0,742.7C1094.0,747.6 1095.2,748.9 1096.3,751.5C1097.4,754.1 1098.3,755.6 1099.3,757.8C1100.3,760.0 1101.2,762.4 1102.3,764.5C1103.4,766.6 1104.6,768.8 1105.6,770.3C1106.6,771.8 1107.2,772.4 1108.1,773.3C1108.9,774.1 1109.5,774.7 1110.6,775.3C1111.7,775.9 1113.3,776.6 1114.8,777.1C1116.3,777.6 1117.7,778.0 1119.3,778.3C1120.9,778.6 1122.6,778.7 1124.3,778.8C1126.0,778.9 1127.3,779.0 1129.4,779.1C1131.5,779.2 1134.8,779.4 1136.9,779.1C1139.0,778.8 1140.2,777.9 1141.9,777.3C1143.6,776.7 1145.0,775.8 1146.9,775.3C1148.8,774.8 1151.1,774.8 1153.2,774.6C1155.3,774.4 1157.3,774.4 1159.4,774.1C1161.5,773.8 1163.6,773.2 1165.7,772.8C1167.8,772.4 1169.9,771.9 1172.0,771.6C1174.1,771.3 1176.1,771.2 1178.2,771.1C1180.3,771.0 1182.2,770.9 1184.5,770.8C1186.8,770.7 1190.1,770.2 1192.0,770.3C1193.9,770.4 1194.5,770.8 1195.8,771.1C1197.1,771.4 1198.2,771.8 1199.5,772.3C1200.8,772.8 1202.0,773.6 1203.3,774.1C1204.6,774.6 1205.7,775.0 1207.0,775.3C1208.3,775.6 1209.5,775.7 1210.8,775.8C1212.1,775.9 1213.3,776.2 1214.6,775.8C1215.9,775.4 1217.0,774.2 1218.3,773.3C1219.6,772.4 1220.8,771.3 1222.1,770.3C1223.4,769.3 1224.5,768.2 1225.8,767.3C1227.1,766.4 1228.4,765.2 1229.6,764.8C1230.8,764.4 1231.5,764.8 1232.6,764.8C1233.7,764.8 1234.7,764.9 1235.9,764.8C1237.1,764.7 1238.1,763.9 1239.6,764.0C1241.1,764.1 1242.9,764.9 1244.6,765.3C1246.3,765.7 1248.0,766.3 1249.6,766.5C1251.2,766.7 1252.6,766.5 1254.1,766.5C1255.6,766.5 1257.5,767.1 1258.4,766.5C1259.3,765.4 1259.1,763.1 1259.4,760.3C1259.7,757.5 1259.9,754.1 1260.2,750.3C1260.5,746.5 1260.9,742.0 1261.2,737.7C1261.5,733.4 1261.7,729.7 1262.2,725.2C1262.7,720.7 1263.3,715.7 1263.9,711.4C1264.5,707.1 1265.3,703.3 1265.9,700.1C1266.5,696.9 1267.1,694.9 1267.7,692.6C1268.3,690.3 1268.9,688.5 1269.7,686.4C1270.5,684.3 1271.4,682.0 1272.2,680.1C1273.0,678.2 1273.5,677.0 1274.7,675.1C1275.9,673.2 1278.4,669.9 1279.2,668.8" fill="none" stroke="#1b1964" stroke-width="2.9" stroke-linejoin="round" stroke-linecap="round"/>
<g fill="#1b1964">
<circle cx="140.6" cy="691.5" r="5"/>
<circle cx="153.1" cy="716.0" r="5"/>
<circle cx="197.7" cy="752.6" r="5"/>
<circle cx="177.2" cy="762.4" r="5"/>
<circle cx="220.3" cy="774.9" r="5"/>
<circle cx="247.8" cy="744.8" r="5"/>
<circle cx="292.2" cy="750.8" r="5"/>
<circle cx="343.1" cy="756.1" r="5"/>
<circle cx="365.1" cy="767.6" r="5"/>
<circle cx="393.8" cy="642.3" r="5"/>
<circle cx="420.6" cy="755.3" r="5"/>
<circle cx="439.4" cy="756.5" r="5"/>
<circle cx="460.2" cy="755.3" r="5"/>
<circle cx="487.7" cy="742.0" r="5"/>
<circle cx="509.0" cy="755.3" r="5"/>
<circle cx="537.9" cy="762.0" r="5"/>
<circle cx="565.7" cy="756.8" r="5"/>
<circle cx="587.2" cy="724.4" r="5"/>
<circle cx="610.0" cy="739.5" r="5"/>
<circle cx="631.6" cy="763.3" r="5"/>
<circle cx="659.9" cy="745.7" r="5"/>
<circle cx="681.4" cy="762.0" r="5"/>
<circle cx="754.6" cy="636.3" r="5"/>
<circle cx="709.5" cy="793.4" r="5"/>
<circle cx="732.6" cy="756.5" r="5"/>
<circle cx="776.2" cy="760.3" r="5"/>
<circle cx="799.3" cy="788.3" r="5"/>
<circle cx="821.3" cy="786.8" r="5"/>
<circle cx="849.4" cy="742.0" r="5"/>
<circle cx="876.2" cy="716.9" r="5"/>
<circle cx="899.5" cy="747.2" r="5"/>
<circle cx="955.1" cy="764.8" r="5"/>
<circle cx="970.9" cy="761.3" r="5"/>
<circle cx="998.7" cy="715.4" r="5"/>
<circle cx="1021.6" cy="655.8" r="5"/>
<circle cx="1054.9" cy="687.6" r="5"/>
<circle cx="1066.0" cy="737.5" r="5"/>
<circle cx="1087.3" cy="755.8" r="5"/>
<circle cx="1110.1" cy="742.7" r="5"/>
<circle cx="1137.6" cy="742.7" r="5"/>
<circle cx="1159.9" cy="737.2" r="5"/>
<circle cx="1215.6" cy="774.6" r="5"/>
<circle cx="1238.9" cy="743.0" r="5"/>
</g>
<path clip-path="url(#cb)" d="M120.0,706.5C120.4,706.7 122.0,706.9 122.6,707.7C123.2,708.5 123.4,709.9 123.8,711.0C124.2,712.1 124.6,713.2 125.1,714.0C125.6,714.8 126.1,715.4 126.6,715.8C127.1,716.2 127.6,716.8 128.1,716.5C128.6,716.2 129.3,715.1 129.8,714.0C130.3,712.9 130.8,712.6 131.3,710.3C131.8,708.0 132.3,704.0 132.6,700.2C132.9,696.4 133.0,693.7 133.3,687.7C133.6,681.8 133.9,671.8 134.1,665.2C134.3,658.6 134.3,650.9 134.6,648.9C134.9,648.3 135.6,652.1 136.1,653.6C136.6,655.1 137.0,656.2 137.6,657.6C138.2,659.0 139.0,660.6 139.6,661.9C140.2,663.2 140.5,663.8 141.3,665.2C142.2,666.6 143.5,668.5 144.6,670.2C145.7,671.9 146.7,673.2 147.6,675.2C148.5,677.2 149.2,679.6 150.1,681.9C150.9,684.2 151.8,686.7 152.6,689.0C153.4,691.3 154.2,693.3 155.1,695.2C155.9,697.1 157.0,698.4 157.6,700.2C158.2,702.0 158.5,703.8 158.9,705.7C159.3,707.6 159.7,709.7 160.1,711.5C160.5,713.3 161.0,714.6 161.4,716.0C161.8,717.4 162.2,719.7 162.6,719.8C163.0,719.9 163.3,717.7 163.6,716.5C163.9,715.3 164.2,714.2 164.6,712.8C165.0,711.4 165.4,709.4 165.7,708.2C166.0,707.0 165.7,706.2 166.4,705.7C167.1,705.2 168.6,705.2 169.7,705.0C170.8,704.8 172.0,704.5 172.7,704.7C173.4,704.9 173.5,705.5 173.9,706.0C174.3,706.5 174.6,705.9 175.2,707.7C175.8,709.5 176.8,713.5 177.7,716.5C178.5,719.5 179.3,722.0 180.2,725.3C181.0,728.6 181.8,732.4 182.7,735.8C183.5,739.2 184.6,743.2 185.2,745.3C185.8,747.4 186.0,747.4 186.4,748.3C186.8,749.1 187.3,750.1 187.7,750.3C188.1,750.5 188.6,749.7 189.0,749.3C189.4,748.9 189.6,747.2 190.2,747.8C190.8,748.4 191.8,751.2 192.7,752.9C193.5,754.6 194.3,756.0 195.2,757.9C196.0,759.8 196.8,762.0 197.7,764.1C198.5,766.2 199.1,768.2 200.2,770.4C201.3,772.6 202.7,775.1 204.0,777.2C205.3,779.3 206.4,781.2 207.7,782.9C209.0,784.6 210.2,785.9 211.5,787.2C212.8,788.5 214.2,789.7 215.3,790.4C216.4,791.1 217.0,791.2 217.8,791.4C218.7,791.6 219.5,791.9 220.3,791.7C221.2,791.5 222.0,790.8 222.8,790.4C223.7,790.0 224.5,789.2 225.3,789.2C226.2,789.2 227.0,790.0 227.8,790.4C228.7,790.8 229.0,791.2 230.3,791.7C231.6,792.2 233.6,792.9 235.3,793.4C237.0,793.9 238.6,794.5 240.3,794.9C242.0,795.3 243.6,795.5 245.3,795.7C247.0,795.9 248.4,796.2 250.3,796.0C252.2,795.8 254.5,795.1 256.6,794.7C258.7,794.3 261.0,793.7 262.9,793.4C264.8,793.1 266.2,792.9 267.9,792.7C269.6,792.5 271.8,792.3 272.9,792.4C274.0,792.5 273.8,793.0 274.2,793.2C274.6,793.4 274.2,793.7 275.4,793.4C276.7,793.1 279.6,791.9 281.7,791.2C283.8,790.5 285.8,789.6 287.9,789.2C290.0,788.8 292.1,788.8 294.2,788.7C296.3,788.6 298.2,788.5 300.5,788.4C302.8,788.3 305.4,788.1 308.0,787.9C310.6,787.7 312.9,787.3 315.5,787.4C318.1,787.5 320.4,787.9 323.0,788.2C325.6,788.5 328.2,788.8 330.5,789.2C332.8,789.6 334.7,790.3 336.8,790.7C338.9,791.1 341.2,791.8 343.1,791.7C345.0,791.6 346.4,790.5 348.1,789.9C349.8,789.3 351.6,788.8 353.1,788.4C354.6,788.0 355.5,787.9 356.8,787.7C358.1,787.5 358.9,787.5 360.6,787.4C362.3,787.3 364.8,787.4 366.9,787.4C369.0,787.4 371.2,787.1 373.1,787.4C375.0,787.7 376.4,788.6 378.1,789.2C379.8,789.8 381.7,790.4 383.2,790.9C384.7,791.4 385.7,791.9 386.9,792.2C388.1,792.5 389.4,793.4 390.2,792.9C391.0,792.4 391.3,791.3 391.7,789.2C392.1,787.1 392.4,784.9 392.7,780.4C393.0,775.9 393.4,769.7 393.7,762.9C394.0,756.1 394.1,746.4 394.4,740.3C394.7,734.2 395.3,731.1 395.7,727.3C396.1,723.5 396.4,720.5 396.9,717.8C397.4,715.1 398.1,713.4 398.7,711.5C399.3,709.6 400.0,707.7 400.7,706.5C401.4,705.3 402.1,704.9 402.7,704.5C403.3,704.1 403.6,703.8 404.5,704.0C405.4,704.2 406.6,705.1 407.7,705.7C408.8,706.3 409.5,707.1 410.7,707.7C411.9,708.3 413.2,708.9 414.5,709.3C415.8,709.7 416.9,710.1 418.2,710.3C419.5,710.5 421.3,710.2 422.0,710.3C422.1,710.4 422.0,710.8 422.1,710.9C422.8,711.0 425.1,710.6 426.4,710.9C427.7,711.2 428.5,712.1 429.6,712.7C430.7,713.3 431.4,713.9 432.6,714.7C433.8,715.6 435.1,716.6 436.4,717.7C437.7,718.8 439.0,719.9 440.1,721.4C441.2,722.9 441.7,724.5 442.6,726.4C443.5,728.3 444.2,730.4 445.2,732.7C446.2,735.0 447.1,737.7 448.2,740.2C449.3,742.8 450.3,745.1 451.4,747.7C452.5,750.3 453.6,752.7 454.7,755.3C455.8,757.9 456.6,760.2 457.7,762.8C458.8,765.4 460.1,768.2 461.4,770.8C462.7,773.3 464.1,775.9 465.2,777.8C466.3,779.7 466.8,780.6 467.7,781.8C468.6,783.0 469.4,784.3 470.2,784.8C471.0,785.3 471.6,784.9 472.2,784.8C472.8,784.7 473.5,784.6 474.0,784.1C474.5,783.6 474.8,783.0 475.2,782.1C475.6,781.2 476.1,780.3 476.5,779.1C476.9,777.9 477.3,776.1 477.7,774.8C478.1,773.5 478.2,772.8 479.0,771.6C479.8,770.4 481.1,769.1 482.2,767.8C483.3,766.5 484.3,765.2 485.2,764.0C486.1,762.8 486.8,762.1 487.7,761.0C488.6,759.9 489.5,759.7 490.3,757.8C491.1,755.9 491.7,752.8 492.3,749.8C492.9,746.8 493.4,743.9 494.0,740.2C494.6,736.5 495.2,732.0 495.8,728.2C496.4,724.4 497.2,720.3 497.8,717.7C498.4,715.1 498.8,714.2 499.3,712.7C499.8,711.2 500.3,709.8 500.8,708.9C501.3,708.0 501.6,707.6 502.0,707.2C502.4,706.8 502.8,706.4 503.3,706.4C503.8,706.4 504.3,706.8 504.8,707.2C505.3,707.6 505.9,708.0 506.5,708.9C507.1,709.8 507.7,711.2 508.3,712.7C508.9,714.2 509.6,715.2 510.3,717.7C511.0,720.2 511.7,724.3 512.3,727.7C512.9,731.1 513.4,734.2 514.1,737.7C514.8,741.2 515.8,744.8 516.6,748.2C517.5,751.6 518.1,755.0 519.1,757.8C520.1,760.6 521.2,762.7 522.3,764.8C523.4,766.9 524.1,768.4 525.3,770.3C526.5,772.2 527.8,774.1 529.1,775.8C530.4,777.5 531.6,778.7 532.9,780.3C534.2,781.9 535.3,783.8 536.6,785.3C537.9,786.8 539.3,788.1 540.4,789.1C541.5,790.1 542.0,790.5 542.9,791.1C543.8,791.7 544.1,792.1 545.4,792.4C546.7,792.7 548.7,792.9 550.4,793.1C552.1,793.3 553.5,793.4 555.4,793.4C557.3,793.4 559.6,793.2 561.7,793.1C563.8,793.0 565.8,793.1 567.9,792.9C570.0,792.7 572.1,792.2 574.2,791.9C576.3,791.6 578.4,791.2 580.5,791.1C582.6,791.0 584.6,791.2 586.7,791.3C588.8,791.4 590.9,791.7 593.0,791.6C595.1,791.5 597.2,790.9 599.3,790.6C601.4,790.3 603.6,789.8 605.5,789.8C607.4,789.8 608.8,790.5 610.5,790.8C612.2,791.1 614.1,791.6 615.5,791.6C616.9,791.6 617.7,791.0 618.8,790.8C619.9,790.6 620.6,790.2 621.8,790.3C623.0,790.4 624.6,791.2 626.1,791.6C627.6,792.0 629.0,792.5 630.6,792.4C632.2,792.3 633.9,791.7 635.6,791.3C637.3,790.9 638.9,790.6 640.6,790.3C642.3,790.0 643.9,789.8 645.6,789.6C647.3,789.4 648.9,789.0 650.6,789.1C652.3,789.2 653.9,789.8 655.6,790.1C657.3,790.4 658.9,790.5 660.6,790.8C662.3,791.1 664.0,791.3 665.7,791.6C667.4,791.9 669.1,792.2 670.7,792.4C672.3,792.6 673.7,792.7 675.2,792.9C676.7,793.1 678.5,793.7 679.4,793.4C680.3,793.1 680.3,792.1 680.7,791.1C681.1,790.1 681.5,789.3 681.9,787.8C682.3,786.3 682.8,784.4 683.2,782.3C683.6,780.2 684.0,777.8 684.5,775.3C685.0,772.8 685.6,770.3 686.2,767.8C686.8,765.2 687.4,762.4 688.2,760.3C689.0,758.2 689.9,756.8 690.7,755.3C691.6,753.8 692.4,752.4 693.2,751.5C694.1,750.6 694.9,750.2 695.7,749.8C696.5,749.4 697.0,749.0 697.7,749.0C698.4,749.0 699.3,749.6 700.0,750.0C700.7,750.4 701.8,751.2 702.0,751.5C702.0,751.8 701.3,750.9 701.3,751.5C701.7,752.5 703.4,755.4 704.5,757.3C705.6,759.2 706.5,760.9 707.5,762.8C708.5,764.7 709.4,766.6 710.5,768.5C711.6,770.4 712.7,772.5 713.8,774.1C714.9,775.7 716.0,776.7 717.1,777.8C718.2,778.9 719.1,780.2 720.1,780.3C721.1,780.4 722.0,779.2 723.1,778.6C724.2,778.0 725.3,777.2 726.3,776.6C727.3,776.0 727.9,775.4 728.8,774.8C729.6,774.2 730.4,774.1 731.3,772.8C732.2,771.5 733.0,769.4 733.9,767.3C734.8,765.2 735.5,763.1 736.4,760.3C737.2,757.5 738.0,754.2 738.9,750.8C739.8,747.4 740.5,743.5 741.4,740.2C742.2,736.9 743.0,734.3 743.9,731.5C744.8,728.7 745.6,725.8 746.4,723.9C747.2,722.0 747.8,721.3 748.4,720.2C749.0,719.1 749.6,717.8 750.1,717.7C750.6,717.6 751.0,718.9 751.4,719.7C751.8,720.6 752.2,723.3 752.6,722.7C753.0,721.9 753.3,718.6 753.6,715.2C753.9,711.8 754.2,709.0 754.4,702.6C754.6,696.2 754.6,685.6 754.6,677.6C754.6,669.6 754.6,664.2 754.6,655.3C754.7,646.4 754.8,634.7 754.9,625.3C755.0,615.9 755.0,603.3 755.2,600.2C755.4,599.6 755.9,605.1 756.2,607.2C756.5,609.3 756.8,610.9 757.2,612.7C757.6,614.5 758.2,616.3 758.7,617.8C759.2,619.3 759.6,620.7 760.2,621.5C760.8,622.3 761.6,622.3 762.2,622.5C762.8,622.7 763.4,623.1 763.9,622.8C764.4,622.5 764.8,621.6 765.2,621.0C765.6,620.4 766.0,618.7 766.4,619.0C766.8,619.3 767.1,621.3 767.4,622.8C767.7,624.3 767.8,624.6 768.2,627.8C768.6,631.0 769.2,636.9 769.7,641.6C770.2,646.3 770.7,649.6 771.4,655.3C772.1,661.0 773.0,668.6 773.9,675.4C774.8,682.2 775.7,689.4 776.4,695.4C777.1,701.4 778.0,709.7 778.2,710.5C778.2,711.1 777.7,699.5 777.7,700.1C778.0,701.2 779.4,711.7 780.2,717.2C781.1,722.7 781.8,727.6 782.7,732.7C783.6,737.8 784.6,742.5 785.7,747.2C786.8,751.9 787.9,756.2 789.0,760.3C790.1,764.4 791.1,768.2 792.2,771.6C793.3,775.0 794.3,778.2 795.2,780.3C796.1,782.4 796.8,783.0 797.7,784.1C798.6,785.2 799.3,786.4 800.3,786.6C801.3,786.8 802.2,785.7 803.3,785.3C804.4,784.9 805.4,784.0 806.5,784.1C807.6,784.2 808.7,785.2 809.8,785.8C810.9,786.4 811.7,787.0 812.8,787.8C813.9,788.6 815.2,789.5 816.5,790.3C817.8,791.1 818.8,791.9 820.3,792.4C821.8,792.9 823.6,793.1 825.3,793.4C827.0,793.7 828.2,794.1 830.3,794.1C832.4,794.1 835.2,793.8 837.8,793.6C840.4,793.4 842.8,793.2 845.4,792.9C848.0,792.6 850.4,792.2 852.9,791.9C855.4,791.6 858.1,791.4 860.4,791.1C862.7,790.8 864.6,790.5 866.7,790.3C868.8,790.1 870.8,789.9 872.9,789.8C875.0,789.7 877.1,789.8 879.2,789.8C881.3,789.8 883.4,789.7 885.5,789.8C887.6,789.9 889.6,790.1 891.7,790.3C893.8,790.5 895.9,790.9 898.0,791.1C900.1,791.3 902.1,791.2 904.2,791.3C906.3,791.4 908.6,791.5 910.5,791.6C912.4,791.7 913.8,792.0 915.5,792.1C917.2,792.2 918.8,792.6 920.5,792.4C922.2,792.2 923.8,791.5 925.5,791.1C927.2,790.7 928.9,790.0 930.6,789.8C932.3,789.6 933.9,790.0 935.6,790.1C937.3,790.2 938.7,790.3 940.6,790.3C942.5,790.3 944.7,790.3 946.8,790.3C948.9,790.3 951.2,790.2 953.1,790.3C955.0,790.4 956.4,790.6 958.1,790.8C959.8,791.0 961.6,791.4 963.1,791.6C964.6,791.8 965.6,792.0 966.9,792.1C968.2,792.2 969.8,793.0 970.6,792.4C971.5,791.8 971.5,789.9 971.9,788.3C972.3,786.7 972.6,784.9 973.2,782.8C973.8,780.7 974.6,778.2 975.2,776.1C975.8,774.0 976.2,772.0 976.9,770.3C977.6,768.6 978.5,767.3 979.4,766.0C980.2,764.7 980.9,763.7 981.9,762.8C982.9,761.9 984.1,761.4 985.2,760.8C986.3,760.2 987.1,759.6 988.2,759.0C989.3,758.4 990.6,757.9 991.9,757.3C993.2,756.7 994.4,756.2 995.7,755.3C997.0,754.4 998.2,753.1 999.5,751.8C1000.8,750.5 1001.9,748.9 1003.2,747.7C1004.5,746.5 1005.7,745.6 1007.0,744.5C1008.3,743.4 1010.1,742.1 1010.7,741.5C1010.7,740.9 1010.3,741.6 1010.3,741.2C1010.9,740.8 1012.9,739.4 1014.1,739.0C1015.3,738.6 1016.0,738.7 1017.1,738.7C1018.2,738.7 1019.5,738.7 1020.4,739.0C1021.3,739.3 1021.8,740.2 1022.4,740.7C1023.0,741.2 1023.5,742.3 1024.1,742.2C1024.7,742.1 1025.5,741.2 1026.1,740.2C1026.7,739.2 1027.3,738.3 1027.9,736.5C1028.5,734.7 1029.0,732.5 1029.6,729.7C1030.2,726.9 1030.9,723.9 1031.6,720.2C1032.3,716.5 1033.0,712.5 1033.6,708.2C1034.2,703.9 1035.1,697.3 1035.4,695.1C1035.4,694.5 1035.4,696.0 1035.4,695.4C1035.7,693.4 1036.5,687.2 1037.1,683.4C1037.7,679.6 1038.6,675.6 1039.2,672.9C1039.8,670.2 1040.2,669.0 1040.7,667.4C1041.2,665.8 1041.7,663.8 1042.2,663.4C1042.7,663.0 1043.2,664.1 1043.7,664.9C1044.2,665.7 1044.8,666.5 1045.4,667.9C1046.0,669.3 1046.6,671.5 1047.2,673.4C1047.8,675.3 1048.5,677.2 1049.2,679.2C1049.9,681.2 1050.6,683.5 1051.4,685.4C1052.2,687.3 1053.1,691.0 1053.7,690.4C1054.3,689.5 1054.5,684.6 1054.9,680.4C1055.3,676.1 1055.8,671.4 1056.2,665.4C1056.6,659.4 1056.9,652.1 1057.2,645.3C1057.5,638.5 1057.6,630.2 1057.9,625.3C1058.2,620.4 1058.5,618.8 1058.7,616.5C1058.9,614.2 1058.9,611.5 1059.2,611.5C1059.5,611.5 1060.0,615.0 1060.4,616.5C1060.8,618.0 1061.3,620.2 1061.7,620.3C1062.1,620.4 1062.3,618.6 1062.5,617.3C1062.7,616.0 1062.7,616.0 1063.0,612.7C1063.3,609.4 1063.7,602.8 1064.0,597.7C1064.3,592.6 1064.4,585.8 1064.7,582.7C1065.0,579.6 1065.2,580.1 1065.5,579.2C1065.8,578.4 1065.9,577.4 1066.2,577.7C1066.5,578.0 1066.9,579.9 1067.2,580.7C1067.5,581.6 1067.7,582.6 1068.0,582.7C1068.3,582.8 1068.5,582.0 1068.7,581.4C1068.9,580.8 1069.0,581.7 1069.2,578.9C1069.4,576.1 1069.8,569.6 1070.0,565.1C1070.2,560.6 1070.3,554.6 1070.5,552.6C1070.7,552.0 1071.0,552.7 1071.2,553.1C1071.4,553.5 1071.5,552.6 1071.7,555.1C1071.9,557.6 1072.3,563.3 1072.5,567.6C1072.7,571.9 1072.7,575.5 1073.0,580.2C1073.3,584.9 1073.8,590.1 1074.2,595.2C1074.6,600.3 1075.0,603.8 1075.5,610.2C1076.0,616.6 1076.6,625.1 1077.2,632.8C1077.8,640.5 1078.5,648.1 1079.2,655.3C1079.9,662.5 1080.6,669.0 1081.2,675.4C1081.8,681.8 1082.4,687.4 1083.0,692.9C1083.6,698.4 1084.4,704.0 1084.8,708.0C1085.2,712.0 1085.0,711.8 1085.5,716.4C1086.0,721.0 1087.0,729.0 1088.0,735.2C1089.0,741.4 1090.2,747.3 1091.3,752.8C1092.4,758.3 1093.2,764.1 1094.3,767.8C1095.4,771.5 1096.7,772.7 1098.0,774.8C1099.3,776.9 1100.5,778.5 1101.8,780.3C1103.1,782.1 1104.3,783.8 1105.6,785.3C1106.9,786.8 1108.0,788.1 1109.3,789.1C1110.6,790.1 1111.8,790.7 1113.1,791.3C1114.4,791.9 1115.3,792.5 1116.8,792.9C1118.3,793.3 1120.1,793.4 1121.8,793.6C1123.5,793.8 1125.2,794.0 1126.9,794.1C1128.6,794.2 1130.2,794.1 1131.9,794.1C1133.6,794.1 1135.0,794.3 1136.9,794.1C1138.8,793.9 1141.0,793.3 1143.1,792.9C1145.2,792.5 1147.1,791.9 1149.4,791.6C1151.7,791.3 1154.4,791.4 1156.9,791.3C1159.5,791.2 1161.8,791.2 1164.4,791.1C1167.0,791.0 1169.4,790.7 1172.0,790.6C1174.6,790.5 1177.2,790.4 1179.5,790.3C1181.8,790.2 1183.6,790.2 1185.7,790.1C1187.8,790.0 1190.3,789.9 1192.0,789.8C1193.7,789.7 1194.5,789.7 1195.8,789.8C1197.1,789.9 1198.0,789.9 1199.5,790.3C1201.0,790.7 1202.8,791.5 1204.5,791.9C1206.2,792.3 1208.0,792.9 1209.5,792.9C1211.0,792.9 1212.0,792.4 1213.3,792.1C1214.6,791.8 1215.8,791.5 1217.1,791.1C1218.4,790.7 1219.5,790.1 1220.8,789.8C1222.1,789.5 1223.1,789.1 1224.6,789.1C1226.1,789.1 1227.9,789.6 1229.6,789.8C1231.3,790.0 1232.9,790.1 1234.6,790.3C1236.3,790.5 1237.9,790.9 1239.6,791.1C1241.3,791.3 1243.1,791.4 1244.6,791.6C1246.1,791.8 1247.1,792.0 1248.4,792.1C1249.7,792.2 1250.8,792.3 1252.1,792.4C1253.4,792.5 1254.6,792.5 1255.9,792.6C1257.2,792.7 1258.7,793.5 1259.7,792.9C1260.7,792.2 1261.1,790.0 1261.7,788.3C1262.3,786.6 1262.7,785.2 1263.4,782.8C1264.1,780.4 1265.1,777.1 1265.9,774.1C1266.8,771.1 1267.6,768.0 1268.4,765.3C1269.2,762.6 1270.1,760.6 1270.9,758.5C1271.8,756.4 1272.5,754.6 1273.4,752.8C1274.3,751.0 1275.2,749.4 1276.2,747.7C1277.2,746.0 1278.7,743.6 1279.2,742.7" fill="none" stroke="#d33131" stroke-width="2.9" stroke-linejoin="round" stroke-linecap="round"/>
<g fill="#d33131">
<circle cx="140.6" cy="726.5" r="5"/>
<circle cx="153.1" cy="728.3" r="5"/>
<circle cx="177.2" cy="768.4" r="5"/>
<circle cx="197.7" cy="786.7" r="5"/>
<circle cx="220.3" cy="780.4" r="5"/>
<circle cx="247.8" cy="776.7" r="5"/>
<circle cx="269.9" cy="769.1" r="5"/>
<circle cx="314.7" cy="764.6" r="5"/>
<circle cx="292.2" cy="788.4" r="5"/>
<circle cx="343.1" cy="790.4" r="5"/>
<circle cx="365.1" cy="777.9" r="5"/>
<circle cx="393.8" cy="743.5" r="5"/>
<circle cx="420.6" cy="785.3" r="5"/>
<circle cx="439.4" cy="762.8" r="5"/>
<circle cx="460.2" cy="788.3" r="5"/>
<circle cx="487.7" cy="764.0" r="5"/>
<circle cx="509.0" cy="775.6" r="5"/>
<circle cx="537.9" cy="782.3" r="5"/>
<circle cx="565.7" cy="770.8" r="5"/>
<circle cx="587.2" cy="745.7" r="5"/>
<circle cx="610.0" cy="773.6" r="5"/>
<circle cx="631.6" cy="776.1" r="5"/>
<circle cx="659.9" cy="752.0" r="5"/>
<circle cx="681.4" cy="757.0" r="5"/>
<circle cx="709.5" cy="797.4" r="5"/>
<circle cx="732.6" cy="777.3" r="5"/>
<circle cx="754.6" cy="656.8" r="5"/>
<circle cx="776.2" cy="772.3" r="5"/>
<circle cx="799.3" cy="785.8" r="5"/>
<circle cx="821.3" cy="794.9" r="5"/>
<circle cx="849.4" cy="767.0" r="5"/>
<circle cx="876.2" cy="762.0" r="5"/>
<circle cx="899.5" cy="757.8" r="5"/>
<circle cx="955.1" cy="785.3" r="5"/>
<circle cx="970.9" cy="760.3" r="5"/>
<circle cx="998.7" cy="789.8" r="5"/>
<circle cx="1021.6" cy="729.0" r="5"/>
<circle cx="1054.9" cy="741.5" r="5"/>
<circle cx="1066.0" cy="759.3" r="5"/>
<circle cx="1087.3" cy="791.1" r="5"/>
<circle cx="1110.1" cy="766.8" r="5"/>
<circle cx="1137.6" cy="764.8" r="5"/>
<circle cx="1159.9" cy="787.3" r="5"/>
<circle cx="1193.8" cy="775.3" r="5"/>
<circle cx="1215.6" cy="781.8" r="5"/>
<circle cx="1238.9" cy="778.3" r="5"/>
</g>
<path clip-path="url(#cb)" d="M120.0,785.4C120.4,785.6 121.7,786.4 122.6,786.7C123.5,787.0 124.4,788.0 125.1,787.4C125.8,786.8 126.1,784.4 126.6,782.9C127.1,781.4 127.6,778.8 128.1,778.4C128.6,778.0 129.1,779.8 129.6,780.4C130.1,781.0 130.7,781.5 131.3,781.7C131.9,781.9 132.5,781.5 133.1,781.4C133.7,781.3 134.3,781.4 135.1,780.9C135.9,780.4 136.8,779.3 137.6,778.4C138.4,777.5 139.3,776.7 140.1,775.4C140.9,774.1 141.5,772.4 142.1,770.9C142.7,769.4 143.3,767.7 143.9,766.6C144.5,765.5 145.0,765.0 145.6,764.4C146.2,763.8 146.6,763.3 147.6,762.9C148.6,762.5 150.1,762.3 151.4,762.1C152.7,761.9 154.2,761.8 155.1,761.6C156.0,761.4 156.1,761.3 156.6,761.1C157.1,760.9 157.7,761.4 158.1,760.4C158.5,759.4 158.7,757.1 158.9,755.4C159.1,753.7 159.1,750.4 159.4,750.3C159.7,750.2 160.1,753.4 160.4,754.9C160.7,756.4 160.8,757.1 161.4,759.1C162.0,761.1 163.1,764.3 163.9,766.6C164.8,768.9 165.6,771.7 166.4,772.9C167.2,774.1 168.1,773.7 168.9,773.9C169.8,774.1 170.7,773.7 171.4,774.2C172.1,774.7 172.6,776.0 173.2,776.9C173.8,777.8 174.2,778.0 175.2,779.2C176.2,780.4 177.6,782.2 178.9,783.7C180.2,785.2 181.4,786.5 182.7,787.9C184.0,789.3 185.1,790.6 186.4,791.9C187.7,793.2 189.1,794.8 190.2,795.5C191.3,796.2 191.8,796.0 192.7,796.2C193.5,796.4 193.9,796.1 195.2,796.7C196.5,797.3 198.5,798.9 200.2,800.0C201.9,801.1 203.5,802.1 205.2,803.0C206.9,803.9 208.6,804.4 210.3,805.0C212.0,805.6 213.9,806.2 215.3,806.7C216.7,807.2 217.2,807.4 218.3,807.7C219.4,808.0 220.7,808.7 221.5,808.5C222.3,808.3 222.7,807.2 223.3,806.7C223.9,806.2 224.5,805.8 225.3,805.5C226.1,805.2 227.0,805.3 227.8,805.2C228.7,805.1 229.0,804.9 230.3,805.0C231.6,805.1 233.6,805.7 235.3,806.0C237.0,806.3 238.2,806.4 240.3,806.7C242.4,807.0 245.2,807.3 247.8,807.5C250.4,807.7 252.8,808.1 255.4,808.0C258.0,807.9 260.3,807.1 262.9,806.7C265.4,806.3 268.7,805.7 270.4,805.5C272.1,805.3 272.0,805.6 272.9,805.7C273.8,805.8 273.7,806.2 275.4,806.0C277.1,805.8 280.3,805.1 282.9,804.7C285.4,804.3 287.6,803.9 290.4,803.5C293.2,803.1 296.2,802.8 299.2,802.5C302.2,802.2 305.0,801.8 308.0,801.7C311.0,801.6 313.8,801.7 316.8,801.7C319.8,801.7 322.5,801.5 325.5,801.7C328.5,801.9 331.3,802.6 334.3,803.0C337.3,803.4 340.6,804.2 343.1,804.2C345.7,804.2 347.2,803.5 349.3,803.2C351.4,802.9 353.3,802.7 355.6,802.5C357.9,802.3 360.6,802.1 363.1,802.0C365.7,801.9 368.3,801.5 370.6,801.7C372.9,801.9 374.8,802.6 376.9,803.0C379.0,803.4 381.5,803.8 383.2,804.2C384.9,804.6 385.6,804.9 386.9,805.2C388.2,805.5 389.7,805.9 390.7,806.0C391.7,806.1 392.1,805.8 392.7,805.5C393.3,805.2 393.5,805.2 394.4,804.2C395.2,803.2 396.6,801.2 397.7,799.7C398.8,798.2 399.4,797.1 400.7,795.5C402.0,793.9 403.7,792.1 405.2,790.4C406.7,788.7 408.2,786.1 409.5,785.4C410.8,784.8 411.6,786.0 412.7,786.2C413.8,786.4 415.0,787.3 415.7,786.7C416.4,786.1 416.6,784.2 417.0,782.9C417.4,781.6 417.4,779.7 418.2,779.2C419.0,778.7 421.1,779.9 421.5,779.9C421.5,779.9 420.8,779.1 420.8,779.1C421.2,779.1 422.4,779.6 423.9,779.8C425.4,780.0 427.7,780.1 429.6,780.3C431.5,780.5 433.5,780.5 435.1,780.8C436.7,781.1 437.6,781.5 438.9,781.8C440.2,782.1 441.3,782.4 442.6,782.8C443.9,783.2 445.1,783.7 446.4,784.1C447.7,784.5 449.1,784.4 450.2,785.3C451.3,786.2 451.8,788.0 452.7,789.3C453.6,790.6 454.3,792.0 455.2,792.9C456.1,793.8 456.8,794.0 457.7,794.4C458.6,794.8 459.3,794.7 460.2,795.4C461.1,796.1 462.1,797.5 463.2,798.6C464.3,799.7 465.3,800.7 466.4,801.6C467.5,802.5 468.6,803.3 469.7,803.9C470.8,804.5 471.5,805.5 472.7,805.4C473.9,805.3 475.2,804.0 476.5,803.4C477.8,802.8 479.1,802.2 480.2,801.6C481.3,801.0 482.1,800.6 483.2,800.1C484.3,799.6 485.5,799.2 486.5,798.4C487.5,797.6 488.1,796.3 489.0,795.4C489.9,794.5 490.6,793.6 491.5,792.9C492.4,792.2 493.1,791.6 494.0,791.1C494.9,790.6 495.3,790.0 496.5,789.8C497.7,789.6 499.3,789.8 500.8,789.8C502.3,789.8 503.9,789.7 505.3,789.8C506.7,789.9 507.7,790.0 509.0,790.1C510.3,790.2 511.7,789.7 512.8,790.3C513.9,790.9 514.4,792.3 515.3,793.4C516.1,794.5 516.9,795.6 517.8,796.6C518.6,797.6 519.4,798.5 520.3,799.4C521.1,800.2 521.7,801.1 522.8,801.6C523.9,802.1 525.3,802.2 526.6,802.4C527.9,802.6 528.8,802.6 530.3,802.9C531.8,803.2 533.7,803.7 535.4,804.1C537.1,804.5 538.7,805.1 540.4,805.4C542.1,805.7 543.7,805.9 545.4,806.1C547.1,806.3 548.3,806.6 550.4,806.6C552.5,806.6 555.4,806.1 557.9,805.9C560.4,805.7 562.9,805.5 565.4,805.4C567.9,805.3 570.3,805.2 572.9,805.1C575.5,805.0 577.9,804.9 580.5,804.9C583.1,804.9 585.5,804.9 588.0,804.9C590.5,804.9 592.7,805.0 595.5,804.9C598.3,804.8 601.3,804.5 604.3,804.4C607.3,804.3 610.6,804.0 613.0,804.1C615.4,804.2 616.7,804.7 618.6,804.9C620.5,805.1 622.3,805.4 624.3,805.4C626.3,805.4 628.2,805.2 630.1,805.1C632.0,805.0 633.6,805.1 635.6,804.9C637.6,804.7 639.8,804.4 641.9,804.1C644.0,803.8 646.0,803.4 648.1,803.4C650.2,803.4 652.3,803.8 654.4,803.9C656.5,804.0 658.5,804.0 660.6,804.1C662.7,804.2 664.8,804.5 666.9,804.6C669.0,804.7 671.4,804.8 673.2,804.9C675.0,805.0 676.2,805.2 677.7,805.4C679.2,805.6 680.6,806.1 681.9,805.9C683.2,805.7 684.1,804.7 685.2,804.1C686.3,803.5 687.0,803.1 688.2,802.4C689.4,801.7 690.7,800.7 692.0,799.9C693.3,799.1 694.6,798.5 695.7,797.9C696.8,797.3 697.4,796.8 698.2,796.4C699.1,796.0 700.2,795.7 700.7,795.4C701.2,795.1 700.8,794.6 701.3,794.9C701.8,795.2 702.9,796.3 703.8,796.9C704.6,797.5 705.6,798.3 706.3,798.4C707.0,798.5 707.4,797.7 708.0,797.4C708.6,797.1 709.2,796.4 710.0,796.6C710.8,796.8 711.7,798.0 712.6,798.6C713.5,799.2 714.2,799.8 715.1,800.4C716.0,801.0 717.0,801.8 718.1,802.4C719.2,803.0 720.2,804.1 721.3,804.1C722.4,804.1 723.5,802.9 724.6,802.4C725.7,801.9 726.6,801.3 727.6,800.9C728.6,800.5 729.5,800.4 730.6,800.1C731.7,799.8 732.7,799.8 733.9,799.1C735.1,798.4 736.3,797.0 737.6,795.9C738.9,794.8 740.0,794.1 741.4,792.9C742.8,791.7 744.1,790.1 745.6,788.8C747.1,787.5 748.8,785.6 750.1,785.3C751.4,785.0 752.0,786.4 753.1,786.8C754.2,787.2 755.3,787.9 756.4,787.8C757.5,787.7 758.6,786.6 759.7,786.1C760.8,785.6 761.6,785.1 762.7,784.8C763.8,784.5 765.1,784.4 766.4,784.1C767.7,783.8 769.0,783.5 770.2,783.3C771.4,783.1 772.1,783.2 773.2,783.1C774.3,783.0 775.3,782.3 776.4,782.8C777.5,783.3 778.6,785.1 779.7,786.3C780.8,787.5 781.5,788.6 782.7,789.8C783.9,791.0 785.2,792.2 786.5,793.4C787.8,794.6 788.9,795.6 790.2,796.6C791.5,797.6 792.7,798.5 794.0,799.4C795.3,800.2 796.5,800.8 797.7,801.6C798.9,802.4 799.7,803.4 800.8,804.1C801.9,804.8 802.9,805.9 804.0,805.9C805.1,805.9 806.2,804.6 807.3,804.1C808.4,803.6 809.2,803.0 810.3,802.9C811.4,802.8 812.7,803.4 814.0,803.6C815.3,803.8 816.3,803.9 817.8,804.1C819.3,804.3 821.1,804.7 822.8,804.9C824.5,805.1 825.5,805.3 827.8,805.4C830.1,805.5 833.6,805.5 836.6,805.6C839.6,805.7 842.2,805.9 845.4,805.9C848.6,805.9 852.0,805.6 855.4,805.4C858.8,805.2 862.2,805.1 865.4,804.9C868.6,804.7 871.2,804.4 874.2,804.1C877.2,803.8 880.1,803.4 882.9,803.4C885.7,803.4 887.9,803.8 890.5,803.9C893.1,804.0 895.7,804.0 898.0,804.1C900.3,804.2 902.1,804.5 904.2,804.6C906.3,804.7 908.4,804.8 910.5,804.9C912.6,805.0 914.7,805.0 916.8,805.1C918.9,805.2 920.9,805.5 923.0,805.4C925.1,805.3 927.2,804.8 929.3,804.6C931.4,804.4 933.1,804.1 935.6,804.1C938.1,804.1 941.3,804.5 944.3,804.6C947.3,804.7 950.5,804.8 953.1,804.9C955.7,805.0 957.3,805.0 959.4,805.1C961.5,805.2 963.9,805.4 965.6,805.4C967.3,805.4 968.1,805.2 969.4,805.1C970.7,805.0 971.9,805.2 973.2,804.9C974.5,804.6 975.6,804.0 976.9,803.4C978.2,802.8 979.2,802.3 980.7,801.6C982.2,800.9 984.0,800.1 985.7,799.4C987.4,798.7 989.0,798.0 990.7,797.4C992.4,796.8 994.0,796.3 995.7,795.9C997.4,795.5 999.0,795.3 1000.7,794.9C1002.4,794.5 1004.0,794.1 1005.7,793.6C1007.4,793.1 1009.3,792.4 1010.7,792.1C1012.1,791.8 1012.7,792.3 1014.1,792.1C1015.5,791.9 1017.5,790.9 1019.1,790.8C1020.7,790.7 1022.1,791.2 1023.6,791.3C1025.1,791.4 1027.1,791.9 1027.9,791.6C1028.6,791.3 1028.4,790.2 1028.6,789.8C1028.8,789.4 1028.6,789.3 1029.1,789.1C1029.6,788.9 1030.8,788.8 1031.6,788.6C1032.4,788.4 1033.3,788.4 1034.1,787.8C1034.9,787.2 1035.5,786.1 1036.1,785.3C1036.7,784.4 1037.3,783.7 1037.9,782.8C1038.5,781.9 1039.1,780.6 1039.7,779.8C1040.3,779.0 1040.6,778.4 1041.2,778.3C1041.8,778.2 1042.5,779.0 1043.2,779.3C1043.9,779.6 1044.5,779.8 1045.4,780.3C1046.3,780.8 1047.6,781.6 1048.7,782.1C1049.8,782.6 1050.6,782.9 1051.7,783.3C1052.8,783.7 1054.1,784.0 1055.4,784.3C1056.7,784.6 1057.9,784.9 1059.2,784.8C1060.5,784.7 1061.7,784.1 1063.0,783.8C1064.3,783.5 1065.6,783.3 1066.7,783.3C1067.8,783.3 1068.4,783.7 1069.2,783.8C1070.0,783.9 1071.1,784.6 1071.7,784.1C1072.3,783.6 1072.6,781.7 1073.0,780.8C1073.4,779.9 1073.6,778.7 1074.2,778.6C1074.8,778.5 1075.9,779.8 1076.7,780.3C1077.5,780.8 1078.4,780.8 1079.2,781.6C1080.0,782.4 1080.8,783.7 1081.7,784.8C1082.6,785.9 1083.4,786.6 1084.3,787.8C1085.2,789.0 1086.0,790.6 1086.8,791.9C1087.6,793.2 1088.5,794.4 1089.3,795.4C1090.1,796.4 1090.7,797.0 1091.3,797.9C1091.9,798.8 1092.4,799.5 1093.0,800.4C1093.6,801.2 1094.2,802.3 1094.8,802.9C1095.4,803.5 1096.1,804.1 1096.8,804.1C1097.5,804.1 1098.2,803.2 1098.8,802.9C1099.4,802.6 1099.7,802.3 1100.5,802.4C1101.3,802.5 1102.7,803.1 1103.8,803.4C1104.9,803.7 1105.4,803.7 1106.8,804.1C1108.2,804.5 1110.1,805.2 1111.8,805.6C1113.5,806.0 1114.9,806.3 1116.8,806.6C1118.7,806.9 1121.0,807.2 1123.1,807.4C1125.2,807.6 1127.1,807.9 1129.4,807.9C1131.7,807.9 1134.4,807.6 1136.9,807.4C1139.5,807.2 1141.9,806.9 1144.4,806.6C1147.0,806.3 1149.4,806.1 1151.9,805.9C1154.5,805.7 1156.9,805.6 1159.4,805.4C1162.0,805.2 1164.3,805.1 1166.9,804.9C1169.5,804.7 1171.9,804.5 1174.5,804.4C1177.1,804.3 1179.5,804.4 1182.0,804.4C1184.5,804.4 1187.2,804.4 1189.5,804.4C1191.8,804.4 1193.7,804.5 1195.8,804.6C1197.9,804.7 1200.1,804.8 1202.0,804.9C1203.9,805.0 1205.3,805.2 1207.0,805.4C1208.7,805.6 1210.3,805.9 1212.0,805.9C1213.7,805.9 1215.4,805.6 1217.1,805.4C1218.8,805.2 1220.4,805.1 1222.1,804.9C1223.8,804.7 1225.4,804.4 1227.1,804.1C1228.8,803.8 1230.4,803.4 1232.1,803.4C1233.8,803.4 1235.4,803.8 1237.1,804.1C1238.8,804.4 1240.4,804.7 1242.1,804.9C1243.8,805.1 1245.4,805.2 1247.1,805.4C1248.8,805.6 1250.6,805.7 1252.1,805.9C1253.6,806.1 1254.6,806.3 1255.9,806.4C1257.2,806.5 1258.5,806.7 1259.7,806.6C1260.9,806.5 1261.8,806.2 1262.9,805.9C1264.0,805.6 1264.8,805.4 1265.9,804.9C1267.0,804.4 1268.1,803.7 1269.2,803.1C1270.3,802.5 1271.1,801.9 1272.2,801.1C1273.3,800.3 1274.5,799.5 1275.7,798.6C1276.9,797.7 1278.6,796.4 1279.2,795.9" fill="none" stroke="#0e716b" stroke-width="2.9" stroke-linejoin="round" stroke-linecap="round"/>
<g fill="#0e716b">
<circle cx="140.6" cy="772.9" r="5"/>
<circle cx="153.1" cy="791.7" r="5"/>
<circle cx="177.2" cy="764.1" r="5"/>
<circle cx="197.7" cy="780.9" r="5"/>
<circle cx="220.3" cy="788.4" r="5"/>
<circle cx="247.8" cy="798.0" r="5"/>
<circle cx="269.9" cy="752.9" r="5"/>
<circle cx="292.2" cy="786.9" r="5"/>
<circle cx="314.7" cy="787.4" r="5"/>
<circle cx="343.1" cy="782.9" r="5"/>
<circle cx="365.1" cy="784.9" r="5"/>
<circle cx="393.8" cy="780.3" r="5"/>
<circle cx="420.6" cy="798.4" r="5"/>
<circle cx="439.4" cy="764.8" r="5"/>
<circle cx="460.2" cy="775.3" r="5"/>
<circle cx="487.7" cy="789.1" r="5"/>
<circle cx="509.0" cy="788.1" r="5"/>
<circle cx="537.9" cy="797.1" r="5"/>
<circle cx="565.7" cy="795.4" r="5"/>
<circle cx="587.2" cy="792.1" r="5"/>
<circle cx="610.0" cy="787.1" r="5"/>
<circle cx="631.6" cy="790.8" r="5"/>
<circle cx="659.9" cy="775.6" r="5"/>
<circle cx="681.4" cy="779.6" r="5"/>
<circle cx="709.5" cy="804.9" r="5"/>
<circle cx="732.6" cy="784.6" r="5"/>
<circle cx="754.6" cy="742.2" r="5"/>
<circle cx="776.2" cy="785.3" r="5"/>
<circle cx="799.3" cy="795.9" r="5"/>
<circle cx="821.3" cy="799.6" r="5"/>
<circle cx="849.4" cy="777.3" r="5"/>
<circle cx="876.2" cy="775.6" r="5"/>
<circle cx="899.5" cy="788.1" r="5"/>
<circle cx="970.9" cy="791.6" r="5"/>
<circle cx="998.7" cy="793.4" r="5"/>
<circle cx="1021.6" cy="735.2" r="5"/>
<circle cx="1054.9" cy="770.3" r="5"/>
<circle cx="1066.0" cy="787.6" r="5"/>
<circle cx="1087.3" cy="795.4" r="5"/>
<circle cx="1110.1" cy="795.4" r="5"/>
<circle cx="1137.6" cy="787.1" r="5"/>
<circle cx="1159.9" cy="766.0" r="5"/>
<circle cx="1193.8" cy="779.8" r="5"/>
<circle cx="1215.6" cy="787.3" r="5"/>
<circle cx="1238.9" cy="780.6" r="5"/>
</g>
<rect x="120.0" y="518.2" width="1159.3" height="289.8" fill="none" stroke="#333333" stroke-width="1.9"/>
<rect x="164.4" y="528" width="69.5" height="78.3" fill="#ffffff" stroke="#7d7d7d" stroke-width="1.1"/>
<g font-family="'Liberation Sans', Arial, sans-serif" font-weight="700" font-size="21.6px">
<text x="171.0" y="550.6" fill="#1e1b5e" textLength="54" lengthAdjust="spacingAndGlyphs">150m</text>
<text x="172.2" y="573.1" fill="#c01424" textLength="54.4" lengthAdjust="spacingAndGlyphs">200m</text>
<text x="172.2" y="597.5" fill="#063f3d" textLength="54.4" lengthAdjust="spacingAndGlyphs">300m</text>
</g>
<g font-family="'Liberation Sans', Arial, sans-serif" font-weight="700" font-size="28.8px" fill="#000">
<text x="19.4" y="24.3" textLength="21.2" lengthAdjust="spacingAndGlyphs">A</text><text x="19.2" y="478.3">B</text></g>
<g font-family="'DejaVu Sans', Verdana, sans-serif" fill="#222" text-anchor="end">
<g font-size="26.6px"><text x="110.6" y="83.3" textLength="49" lengthAdjust="spacingAndGlyphs">100</text><text x="111.4" y="225" textLength="32.6" lengthAdjust="spacingAndGlyphs">50</text><text x="107.4" y="370.5" textLength="16.3" lengthAdjust="spacingAndGlyphs">0</text></g>
<g font-size="20.5px">
<text x="113.1" y="535.0">120</text>
<text x="112.3" y="582.1">100</text>
<text x="113.0" y="633.3">80</text>
<text x="112.6" y="682.0">60</text>
<text x="112.6" y="734.3">40</text>
<text x="112.6" y="783.0">20</text>
</g></g>
<g font-family="'Liberation Sans', Arial, sans-serif" font-size="32px" fill="#1a1a1a">
<text y="398.3"><tspan x="224.37" textLength="64.17" lengthAdjust="spacingAndGlyphs">Year </tspan><tspan x="288.31" textLength="12.54" lengthAdjust="spacingAndGlyphs">1</tspan></text>
<text y="397.9"><tspan x="495.62" textLength="64.87" lengthAdjust="spacingAndGlyphs">Year </tspan><tspan x="559.17" textLength="16.71" lengthAdjust="spacingAndGlyphs">2</tspan></text>
<text y="397.9"><tspan x="819.36" textLength="64.49" lengthAdjust="spacingAndGlyphs">Year </tspan><tspan x="883.80" textLength="14.93" lengthAdjust="spacingAndGlyphs">3</tspan></text>
<text y="397.9"><tspan x="1098.11" textLength="64.79" lengthAdjust="spacingAndGlyphs">Year </tspan><tspan x="1161.49" textLength="17.14" lengthAdjust="spacingAndGlyphs">4</tspan></text>
<text y="839.2"><tspan x="219.37" textLength="64.17" lengthAdjust="spacingAndGlyphs">Year </tspan><tspan x="283.31" textLength="12.54" lengthAdjust="spacingAndGlyphs">1</tspan></text>
<text y="838.8"><tspan x="485.45" textLength="64.68" lengthAdjust="spacingAndGlyphs">Year </tspan><tspan x="548.62" textLength="16.50" lengthAdjust="spacingAndGlyphs">2</tspan></text>
<text y="839.6"><tspan x="805.37" textLength="64.48" lengthAdjust="spacingAndGlyphs">Year </tspan><tspan x="868.99" textLength="15.36" lengthAdjust="spacingAndGlyphs">3</tspan></text>
<text y="840.2"><tspan x="1093.45" textLength="64.29" lengthAdjust="spacingAndGlyphs">Year </tspan><tspan x="1156.49" textLength="17.14" lengthAdjust="spacingAndGlyphs">4</tspan></text>
</g>
<text transform="translate(35.1,331.8) rotate(-90)" font-family="'Liberation Sans', Arial, sans-serif" font-size="23.2px" fill="#222" textLength="216.6" lengthAdjust="spacingAndGlyphs">Zooplankton Biomass</text>
<text transform="translate(62.6,295.8) rotate(-90)" font-family="'DejaVu Sans', Verdana, sans-serif" font-size="23.6px" fill="#222"><tspan font-family="'DejaVu Serif', serif" font-style="italic" font-size="21px">μ</tspan><tspan dx="-1.8"> mol</tspan><tspan dx="-1.8"> C</tspan><tspan dx="-1.8"> ·</tspan><tspan dx="3.6"> L</tspan><tspan font-size="13px" dx="1.8" dy="-12.5">-1</tspan></text>
<text transform="translate(31.8,748.3) rotate(-90)" font-family="'DejaVu Sans', Verdana, sans-serif" font-size="22.6px" fill="#222" textLength="160.5" lengthAdjust="spacingAndGlyphs">Carbon Export</text>
<text transform="translate(64.7,759.2) rotate(-90)" font-family="'DejaVu Sans', Verdana, sans-serif" font-size="22.8px" fill="#222" textLength="180.5" lengthAdjust="spacingAndGlyphs">mg C<tspan dx="2"> ·</tspan><tspan dx="0.6"> m</tspan><tspan font-size="18px" dy="-9.3">-2</tspan><tspan dy="9.3" dx="-1.2"> · d</tspan><tspan font-size="18px" dy="-9.3">-1</tspan></text>
</svg>
</body></html>
